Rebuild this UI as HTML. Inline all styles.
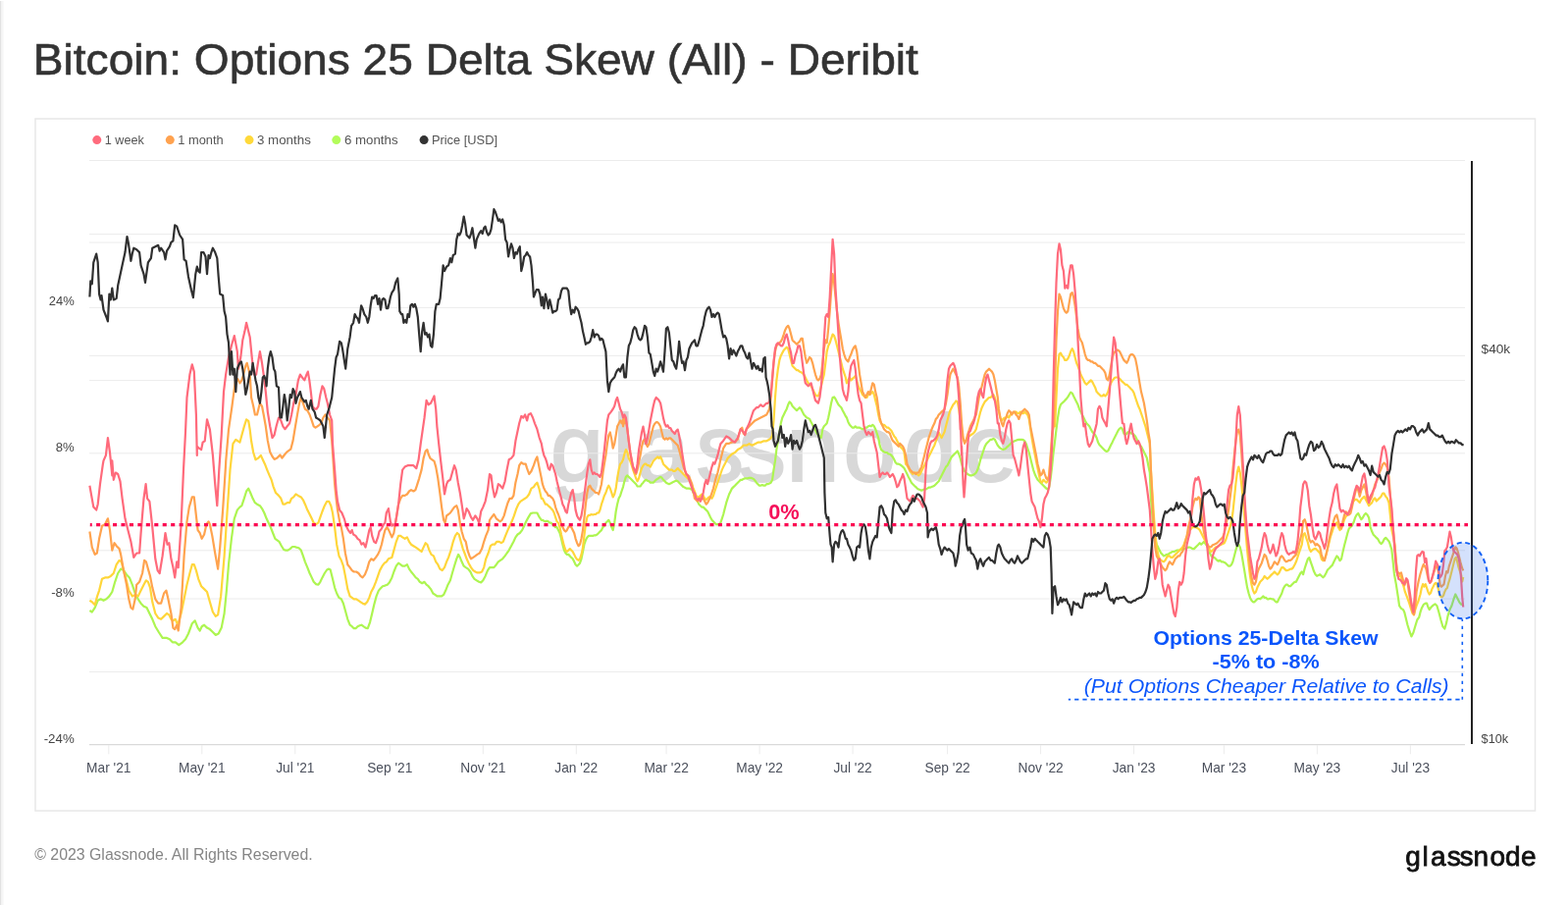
<!DOCTYPE html>
<html><head><meta charset="utf-8"><title>Bitcoin: Options 25 Delta Skew (All) - Deribit</title>
<style>
html,body{margin:0;padding:0;background:#fff;}
body{width:1598px;height:922px;position:relative;overflow:hidden;font-family:'Liberation Sans', sans-serif;}
</style></head><body>
<svg width="1598" height="922" viewBox="0 0 1598 922" style="position:absolute;left:0;top:0">
<rect x="0" y="1" width="1.5" height="921" fill="#e2e2e2"/><rect x="1.5" y="1" width="2" height="921" fill="#f6f6f6"/>
<rect x="36" y="121" width="1528.5" height="705" fill="none" stroke="#e8e8e8" stroke-width="1.5"/>
<text x="33.8" y="76.2" font-family="Liberation Sans, sans-serif" font-size="44.2" fill="#333" textLength="902.1" lengthAdjust="spacingAndGlyphs" stroke="#333" stroke-width="0.6">Bitcoin: Options 25 Delta Skew (All) - Deribit</text>
<text x="35.2" y="875.7" font-family="Liberation Sans, sans-serif" font-size="16.9" fill="#858585" textLength="283.5" lengthAdjust="spacingAndGlyphs">© 2023 Glassnode. All Rights Reserved.</text>
<text x="1432.25 1449.5 1457.9 1474.8 1487.5 1501.55 1518.4 1534.1 1550.1" y="882" font-family="Liberation Sans, sans-serif" font-size="28" fill="#111" stroke="#111" stroke-width="0.8">glassnode</text>
<circle cx="98.8" cy="142.6" r="4.5" fill="#ff6b7d"/>
<text x="106.8" y="146.7" font-family="Liberation Sans, sans-serif" font-size="12.6" fill="#555" textLength="40.1" lengthAdjust="spacingAndGlyphs">1 week</text>
<circle cx="173.3" cy="142.6" r="4.5" fill="#ffa24f"/>
<text x="181.3" y="146.7" font-family="Liberation Sans, sans-serif" font-size="12.6" fill="#555" textLength="46.4" lengthAdjust="spacingAndGlyphs">1 month</text>
<circle cx="254" cy="142.6" r="4.5" fill="#ffd93a"/>
<text x="262.0" y="146.7" font-family="Liberation Sans, sans-serif" font-size="12.6" fill="#555" textLength="54.8" lengthAdjust="spacingAndGlyphs">3 months</text>
<circle cx="342.8" cy="142.6" r="4.5" fill="#b3fc5a"/>
<text x="350.9" y="146.7" font-family="Liberation Sans, sans-serif" font-size="12.6" fill="#555" textLength="54.7" lengthAdjust="spacingAndGlyphs">6 months</text>
<circle cx="432.1" cy="142.6" r="4.5" fill="#333"/>
<text x="439.9" y="146.7" font-family="Liberation Sans, sans-serif" font-size="12.6" fill="#555" textLength="67.1" lengthAdjust="spacingAndGlyphs">Price [USD]</text>
<text x="561 624.5 648.5 709.5 752.5 801.5 859.5 921 982.5" y="490" font-family="Liberation Sans, sans-serif" font-size="97" fill="#d8d8d8" stroke="#d8d8d8" stroke-width="2">glassnode</text>
<line x1="91" x2="1493" y1="163.5" y2="163.5" stroke="#ececec" stroke-width="1"/>
<line x1="91" x2="1493" y1="238.6" y2="238.6" stroke="#ececec" stroke-width="1"/>
<line x1="91" x2="1493" y1="247.0" y2="247.0" stroke="#ececec" stroke-width="1"/>
<line x1="91" x2="1493" y1="313.4" y2="313.4" stroke="#ececec" stroke-width="1"/>
<line x1="91" x2="1493" y1="362.4" y2="362.4" stroke="#ececec" stroke-width="1"/>
<line x1="91" x2="1493" y1="387.6" y2="387.6" stroke="#ececec" stroke-width="1"/>
<line x1="91" x2="1493" y1="461.8" y2="461.8" stroke="#ececec" stroke-width="1"/>
<line x1="91" x2="1493" y1="535.8" y2="535.8" stroke="#ececec" stroke-width="1"/>
<line x1="91" x2="1493" y1="560.8" y2="560.8" stroke="#ececec" stroke-width="1"/>
<line x1="91" x2="1493" y1="610.0" y2="610.0" stroke="#ececec" stroke-width="1"/>
<line x1="91" x2="1493" y1="684.5" y2="684.5" stroke="#ececec" stroke-width="1"/>
<line x1="91" x2="1493" y1="758.6" y2="758.6" stroke="#d9d9d9" stroke-width="1.2"/>
<line x1="110.8" x2="110.8" y1="759" y2="768.3" stroke="#ececec" stroke-width="1"/>
<text x="110.8" y="787.0" font-family="Liberation Sans, sans-serif" font-size="14.1" fill="#4b505c" text-anchor="middle" transform="translate(110.8 0) scale(0.975 1) translate(-110.8 0)">Mar '21</text>
<line x1="205.8" x2="205.8" y1="759" y2="768.3" stroke="#ececec" stroke-width="1"/>
<text x="205.8" y="787.0" font-family="Liberation Sans, sans-serif" font-size="14.1" fill="#4b505c" text-anchor="middle" transform="translate(205.8 0) scale(0.975 1) translate(-205.8 0)">May '21</text>
<line x1="300.8" x2="300.8" y1="759" y2="768.3" stroke="#ececec" stroke-width="1"/>
<text x="300.8" y="787.0" font-family="Liberation Sans, sans-serif" font-size="14.1" fill="#4b505c" text-anchor="middle" transform="translate(300.8 0) scale(0.975 1) translate(-300.8 0)">Jul '21</text>
<line x1="397.3" x2="397.3" y1="759" y2="768.3" stroke="#ececec" stroke-width="1"/>
<text x="397.3" y="787.0" font-family="Liberation Sans, sans-serif" font-size="14.1" fill="#4b505c" text-anchor="middle" transform="translate(397.3 0) scale(0.975 1) translate(-397.3 0)">Sep '21</text>
<line x1="492.3" x2="492.3" y1="759" y2="768.3" stroke="#ececec" stroke-width="1"/>
<text x="492.3" y="787.0" font-family="Liberation Sans, sans-serif" font-size="14.1" fill="#4b505c" text-anchor="middle" transform="translate(492.3 0) scale(0.975 1) translate(-492.3 0)">Nov '21</text>
<line x1="587.3" x2="587.3" y1="759" y2="768.3" stroke="#ececec" stroke-width="1"/>
<text x="587.3" y="787.0" font-family="Liberation Sans, sans-serif" font-size="14.1" fill="#4b505c" text-anchor="middle" transform="translate(587.3 0) scale(0.975 1) translate(-587.3 0)">Jan '22</text>
<line x1="679.1" x2="679.1" y1="759" y2="768.3" stroke="#ececec" stroke-width="1"/>
<text x="679.1" y="787.0" font-family="Liberation Sans, sans-serif" font-size="14.1" fill="#4b505c" text-anchor="middle" transform="translate(679.1 0) scale(0.975 1) translate(-679.1 0)">Mar '22</text>
<line x1="774.1" x2="774.1" y1="759" y2="768.3" stroke="#ececec" stroke-width="1"/>
<text x="774.1" y="787.0" font-family="Liberation Sans, sans-serif" font-size="14.1" fill="#4b505c" text-anchor="middle" transform="translate(774.1 0) scale(0.975 1) translate(-774.1 0)">May '22</text>
<line x1="869.1" x2="869.1" y1="759" y2="768.3" stroke="#ececec" stroke-width="1"/>
<text x="869.1" y="787.0" font-family="Liberation Sans, sans-serif" font-size="14.1" fill="#4b505c" text-anchor="middle" transform="translate(869.1 0) scale(0.975 1) translate(-869.1 0)">Jul '22</text>
<line x1="965.6" x2="965.6" y1="759" y2="768.3" stroke="#ececec" stroke-width="1"/>
<text x="965.6" y="787.0" font-family="Liberation Sans, sans-serif" font-size="14.1" fill="#4b505c" text-anchor="middle" transform="translate(965.6 0) scale(0.975 1) translate(-965.6 0)">Sep '22</text>
<line x1="1060.6" x2="1060.6" y1="759" y2="768.3" stroke="#ececec" stroke-width="1"/>
<text x="1060.6" y="787.0" font-family="Liberation Sans, sans-serif" font-size="14.1" fill="#4b505c" text-anchor="middle" transform="translate(1060.6 0) scale(0.975 1) translate(-1060.6 0)">Nov '22</text>
<line x1="1155.6" x2="1155.6" y1="759" y2="768.3" stroke="#ececec" stroke-width="1"/>
<text x="1155.6" y="787.0" font-family="Liberation Sans, sans-serif" font-size="14.1" fill="#4b505c" text-anchor="middle" transform="translate(1155.6 0) scale(0.975 1) translate(-1155.6 0)">Jan '23</text>
<line x1="1247.4" x2="1247.4" y1="759" y2="768.3" stroke="#ececec" stroke-width="1"/>
<text x="1247.4" y="787.0" font-family="Liberation Sans, sans-serif" font-size="14.1" fill="#4b505c" text-anchor="middle" transform="translate(1247.4 0) scale(0.975 1) translate(-1247.4 0)">Mar '23</text>
<line x1="1342.4" x2="1342.4" y1="759" y2="768.3" stroke="#ececec" stroke-width="1"/>
<text x="1342.4" y="787.0" font-family="Liberation Sans, sans-serif" font-size="14.1" fill="#4b505c" text-anchor="middle" transform="translate(1342.4 0) scale(0.975 1) translate(-1342.4 0)">May '23</text>
<line x1="1437.4" x2="1437.4" y1="759" y2="768.3" stroke="#ececec" stroke-width="1"/>
<text x="1437.4" y="787.0" font-family="Liberation Sans, sans-serif" font-size="14.1" fill="#4b505c" text-anchor="middle" transform="translate(1437.4 0) scale(0.975 1) translate(-1437.4 0)">Jul '23</text>
<text x="49.7" y="311.0" font-family="Liberation Sans, sans-serif" font-size="12.6" fill="#454545" textLength="26.0" lengthAdjust="spacingAndGlyphs">24%</text>
<text x="56.7" y="460.0" font-family="Liberation Sans, sans-serif" font-size="12.6" fill="#454545" textLength="19.0" lengthAdjust="spacingAndGlyphs">8%</text>
<text x="52.2" y="608.3" font-family="Liberation Sans, sans-serif" font-size="12.6" fill="#454545" textLength="23.5" lengthAdjust="spacingAndGlyphs">-8%</text>
<text x="44.7" y="757.0" font-family="Liberation Sans, sans-serif" font-size="12.6" fill="#454545" textLength="31.0" lengthAdjust="spacingAndGlyphs">-24%</text>
<text x="1509.6" y="359.7" font-family="Liberation Sans, sans-serif" font-size="12.4" fill="#454545" textLength="29.599999999999998" lengthAdjust="spacingAndGlyphs">$40k</text>
<text x="1509.6" y="756.5" font-family="Liberation Sans, sans-serif" font-size="12.4" fill="#454545" textLength="27.599999999999998" lengthAdjust="spacingAndGlyphs">$10k</text>
<polyline fill="none" stroke="#adf551" stroke-width="2.2" stroke-linejoin="round" points="91.4,622.0 93.8,623.5 96.7,619.1 99.7,611.8 102.6,610.3 105.5,611.8 108.4,610.3 111.4,607.4 114.3,603.0 117.2,592.8 120.2,584.0 123.1,579.6 126.0,581.1 129.0,585.4 131.9,588.4 134.8,595.7 137.7,604.5 140.7,610.3 143.6,614.7 146.5,617.7 149.5,619.1 152.4,625.0 155.3,630.8 158.3,638.2 161.8,644.0 165.6,649.9 170.0,649.9 172.9,651.3 175.8,654.3 178.8,654.3 182.3,657.2 186.1,654.3 189.0,651.3 192.0,645.5 195.8,635.2 198.7,632.3 201.6,639.6 203.7,642.5 205.7,638.2 208.1,636.7 211.0,639.6 213.9,641.1 216.9,644.0 219.8,646.9 222.7,645.5 225.7,639.6 228.6,625.0 230.9,601.6 233.0,575.2 235.9,548.8 238.8,528.3 241.8,519.6 244.4,516.6 246.4,515.2 248.8,507.8 251.1,500.5 253.2,497.6 255.2,502.0 257.6,507.8 259.9,512.2 262.0,513.7 264.9,515.2 267.0,518.1 269.3,522.5 271.6,528.3 273.7,532.7 275.8,537.1 278.1,543.0 280.4,548.8 282.5,550.3 284.5,551.8 286.9,556.2 289.2,560.0 291.3,560.6 293.3,560.6 295.7,559.1 298.0,557.0 300.1,557.0 302.1,557.6 304.5,558.2 306.8,560.6 308.9,566.4 310.9,572.3 313.3,578.1 315.6,584.0 317.7,588.4 319.7,592.8 322.1,595.1 324.4,595.7 326.4,592.8 328.5,588.4 330.8,584.0 333.2,580.5 335.2,579.6 336.7,580.5 339.0,589.8 341.1,598.6 343.2,604.5 345.5,608.9 347.8,610.3 349.9,614.7 351.9,622.0 354.3,630.8 356.6,636.7 358.7,638.2 360.7,640.2 362.5,640.2 364.5,638.2 366.6,637.3 368.4,636.7 370.4,638.2 372.5,639.6 374.8,640.2 377.1,633.8 379.2,625.0 381.2,616.2 383.6,607.4 385.9,601.6 388.0,599.2 390.0,597.2 392.4,596.6 394.7,595.7 396.8,593.4 399.4,588.4 401.4,582.5 403.8,576.7 406.1,573.7 408.2,575.2 410.2,576.7 412.6,576.7 414.9,575.2 417.0,579.6 419.0,582.5 421.4,585.4 423.7,588.4 425.8,589.8 427.8,592.8 430.2,594.2 432.5,592.8 434.6,595.7 436.6,597.2 439.0,600.1 441.3,604.5 443.4,605.9 445.4,607.4 447.7,607.4 450.1,607.4 452.1,605.9 454.2,601.6 456.5,595.7 458.9,591.3 460.9,584.0 463.0,576.7 465.3,569.3 467.1,564.9 468.8,567.9 470.6,572.3 472.7,576.7 474.7,578.1 477.1,579.6 479.4,582.5 481.4,586.9 483.5,589.8 485.8,591.3 488.2,592.8 490.2,593.4 492.3,591.3 494.6,586.9 497.0,581.1 499.0,578.1 501.1,578.1 503.4,578.1 505.8,575.2 507.8,572.3 509.9,570.8 512.2,569.3 514.6,566.4 516.6,563.5 518.7,560.6 521.0,556.2 523.4,551.8 525.4,547.4 527.5,544.5 529.8,543.0 532.1,540.1 534.2,535.7 536.2,531.3 538.6,526.9 540.9,523.1 543.0,522.5 545.0,522.5 547.4,522.5 549.7,526.9 551.8,529.8 552.9,529.8 554.4,530.7 555.9,531.3 557.3,530.7 558.8,531.3 560.3,532.7 561.7,532.7 563.2,534.2 564.7,535.7 566.1,537.1 567.6,537.1 569.0,540.1 570.5,543.0 572.0,548.8 573.4,554.7 574.9,560.6 576.4,563.5 577.8,564.9 579.3,564.9 580.8,566.4 582.2,567.9 583.7,569.3 585.2,572.3 586.6,575.2 588.1,576.7 589.6,575.2 591.0,573.7 592.5,569.3 594.0,562.0 595.4,554.7 596.9,550.3 598.4,547.4 599.8,545.9 601.3,545.9 602.7,545.9 604.2,545.9 605.7,545.3 607.1,545.3 608.6,544.5 610.1,543.0 611.5,541.5 613.0,540.1 614.5,537.1 615.9,535.7 617.4,532.7 618.9,531.3 620.3,529.8 621.8,532.7 623.3,537.1 624.7,540.1 626.2,532.7 627.7,521.0 629.1,513.7 630.6,507.8 632.1,504.9 633.5,500.5 635.0,496.1 636.4,490.3 637.9,485.9 639.4,484.4 640.8,485.9 642.3,487.3 643.8,488.8 645.2,490.3 646.7,491.7 648.2,493.2 649.6,495.5 651.1,495.5 652.6,495.5 654.0,493.2 655.5,491.7 657.0,489.7 658.4,488.8 659.9,489.7 661.4,490.3 662.8,491.7 664.3,491.7 665.8,491.7 667.2,490.3 668.7,488.8 670.1,487.9 671.6,486.8 673.1,485.9 674.5,486.8 676.0,488.8 677.5,490.3 678.9,491.7 680.4,492.6 681.9,493.2 683.3,492.6 684.8,491.7 686.3,490.9 687.7,490.3 689.2,489.7 690.7,490.3 692.1,491.7 693.6,493.2 695.1,494.7 696.5,496.1 698.0,496.7 699.5,497.6 702.4,497.6 705.3,499.1 707.9,504.9 709.4,507.8 710.9,510.8 712.3,513.7 713.8,515.2 715.3,516.6 716.7,516.6 718.2,518.1 719.7,519.6 721.1,521.0 722.6,524.0 724.0,526.9 725.5,529.8 727.0,531.3 728.4,532.7 729.9,534.2 731.4,534.2 732.8,534.2 734.3,532.7 735.8,528.3 737.2,524.0 738.7,518.1 740.2,512.2 741.6,507.8 743.1,503.5 744.6,500.5 746.0,497.6 747.5,496.1 749.0,494.7 750.4,493.2 751.9,491.7 753.4,490.3 754.8,488.8 756.3,488.8 757.7,487.9 759.2,487.3 760.7,487.3 762.1,487.3 763.6,486.8 765.1,486.8 766.5,487.3 768.0,487.9 769.5,489.7 770.9,491.7 772.4,493.2 773.9,494.7 775.3,494.7 776.8,494.1 778.3,494.7 779.7,494.7 781.2,493.2 782.7,493.2 784.1,492.6 785.6,491.7 787.1,488.8 788.5,478.6 790.0,469.4 791.4,457.7 792.9,448.9 794.4,440.1 795.8,431.3 797.3,425.5 798.8,422.5 800.2,419.6 801.7,416.7 803.2,412.3 804.6,409.4 806.1,410.8 807.6,413.8 809.0,415.2 810.5,416.7 812.0,418.2 813.4,416.7 814.9,415.2 816.4,416.7 817.8,419.6 819.3,422.5 820.8,424.0 822.2,425.5 823.7,426.1 825.1,426.9 826.6,429.9 828.1,432.8 829.5,435.7 831.0,438.7 832.5,441.6 833.9,443.0 835.4,444.5 836.9,446.0 838.3,437.2 839.8,434.3 841.3,432.8 842.7,431.3 844.2,425.5 845.7,418.2 847.1,410.8 848.6,405.0 850.1,404.4 851.5,406.4 853.0,409.4 854.5,412.3 855.9,413.8 857.4,415.2 858.8,418.2 860.3,421.1 861.8,424.0 862.9,425.5 864.4,429.9 865.9,432.8 867.3,434.3 868.8,435.7 870.3,435.7 871.7,434.3 873.2,435.7 874.7,435.7 876.1,435.7 877.6,436.6 879.0,437.2 880.5,437.2 882.0,435.7 883.4,435.7 884.9,434.3 886.4,433.7 887.8,434.3 889.3,432.8 890.8,434.3 892.2,437.2 893.7,441.6 895.2,446.0 896.6,453.7 898.1,458.1 899.6,459.5 901.0,460.4 902.5,461.0 904.0,461.0 905.4,462.5 906.9,462.5 908.4,463.9 909.8,465.4 911.3,468.3 912.7,471.2 914.2,472.7 915.7,472.7 917.1,473.3 918.6,474.2 920.1,475.6 921.5,477.1 923.0,480.0 924.5,483.0 925.9,485.9 927.4,488.8 928.9,491.7 930.3,493.2 931.8,494.7 933.3,496.1 934.7,497.6 936.2,498.5 937.7,499.1 939.1,499.6 940.6,499.1 942.1,498.5 943.5,498.5 945.0,497.6 946.4,496.7 947.9,496.7 949.4,496.1 950.8,495.5 952.3,494.7 953.8,493.2 955.2,491.7 956.7,490.3 958.2,487.3 959.6,484.4 961.1,481.5 962.6,478.6 964.0,475.6 965.5,474.2 967.0,471.2 968.4,468.3 969.9,465.4 971.4,463.9 972.8,462.5 974.3,461.0 975.8,459.5 977.2,462.5 978.7,466.9 980.1,472.7 981.6,477.1 983.1,480.0 984.5,481.5 986.0,483.0 987.5,483.8 988.9,484.4 990.4,484.4 991.9,483.8 993.3,483.0 994.8,481.5 996.3,478.6 997.7,474.2 999.2,468.3 1000.7,463.9 1002.1,459.5 1003.6,455.1 1005.1,452.2 1006.5,450.7 1008.0,449.3 1009.5,447.8 1010.9,447.8 1012.4,446.9 1013.8,447.8 1015.3,450.7 1016.8,453.7 1017.9,455.1 1019.4,456.6 1020.9,457.5 1022.3,458.1 1023.8,457.5 1025.3,456.6 1026.7,455.1 1028.2,453.7 1029.7,452.2 1031.1,450.7 1032.6,449.9 1034.0,449.3 1035.5,448.7 1037.0,448.1 1038.4,447.8 1039.9,447.8 1041.4,447.8 1042.8,448.1 1044.3,449.3 1045.8,452.2 1047.2,456.6 1048.7,461.0 1050.2,466.9 1051.6,472.7 1053.1,478.6 1054.6,483.0 1056.0,485.9 1057.5,488.8 1059.0,490.3 1060.4,491.7 1061.9,493.2 1063.4,494.7 1064.8,496.1 1066.3,497.6 1067.7,498.5 1069.2,496.1 1070.7,487.3 1072.1,475.6 1073.6,461.0 1075.1,449.3 1076.5,437.6 1078.0,425.9 1079.5,416.7 1080.9,412.3 1082.4,410.8 1083.9,409.4 1085.3,407.9 1086.8,406.4 1088.3,404.4 1089.7,402.0 1091.2,399.7 1092.7,400.6 1094.1,403.5 1095.6,406.4 1097.1,409.4 1098.5,412.3 1100.0,416.7 1101.4,419.6 1102.9,422.5 1104.4,425.5 1105.8,428.4 1107.3,431.3 1108.8,432.8 1110.2,434.3 1111.7,437.2 1113.2,440.1 1114.6,441.6 1116.1,443.0 1117.6,446.0 1119.0,450.4 1120.5,453.3 1122.0,454.8 1123.4,456.2 1124.9,457.7 1126.4,459.2 1127.8,460.0 1129.3,459.2 1130.8,456.2 1132.2,453.3 1133.7,450.4 1135.1,447.4 1136.6,444.5 1138.1,441.6 1139.5,438.7 1141.0,436.6 1142.5,435.7 1143.9,437.2 1145.4,441.6 1146.9,443.0 1148.3,441.6 1149.8,440.1 1151.3,440.1 1152.7,441.6 1154.2,441.6 1155.7,443.0 1157.1,444.5 1158.6,447.4 1160.1,450.4 1161.5,453.3 1163.0,454.8 1164.5,457.7 1165.9,460.6 1167.4,463.5 1168.8,466.5 1170.3,474.2 1171.8,481.5 1172.9,507.8 1174.4,525.4 1175.9,540.1 1177.3,548.8 1178.8,554.7 1180.3,557.6 1181.7,560.6 1183.2,563.5 1184.7,564.9 1186.1,566.4 1187.6,565.8 1189.0,564.9 1190.5,564.9 1192.0,563.5 1193.4,562.9 1194.9,562.0 1196.4,562.0 1197.8,561.4 1199.3,560.6 1200.8,560.6 1202.2,560.6 1203.7,560.0 1205.2,560.0 1206.6,559.1 1208.1,559.1 1209.6,558.2 1211.0,557.6 1212.5,557.6 1214.0,558.2 1215.4,559.1 1216.9,559.1 1218.4,557.6 1219.8,556.2 1221.3,554.7 1222.7,553.2 1224.2,554.7 1225.7,553.2 1227.1,551.8 1228.6,554.1 1230.1,556.2 1231.5,559.1 1233.0,563.5 1234.5,566.4 1235.9,567.9 1237.4,567.9 1238.9,569.3 1240.3,570.8 1241.8,571.7 1243.3,570.8 1244.7,572.3 1246.2,572.3 1247.7,572.9 1249.1,573.7 1250.6,575.2 1252.1,576.7 1253.5,576.7 1255.0,575.2 1256.4,572.3 1257.9,566.4 1259.4,560.6 1260.8,556.2 1262.3,554.7 1263.8,557.6 1265.2,563.5 1266.7,572.3 1268.2,581.1 1269.6,589.8 1271.1,598.6 1272.6,604.5 1274.0,608.9 1275.5,611.8 1277.0,613.3 1278.4,613.3 1279.9,611.8 1281.4,610.3 1282.8,609.8 1284.3,610.3 1285.8,608.9 1287.2,607.4 1288.7,608.9 1290.1,608.9 1291.6,610.3 1293.1,610.3 1294.5,609.8 1296.0,610.3 1297.5,610.3 1298.9,611.8 1300.4,613.3 1301.9,613.3 1303.3,610.3 1304.8,607.4 1306.3,604.5 1307.7,600.1 1309.2,597.2 1310.7,595.7 1312.1,595.7 1313.6,597.2 1315.1,597.2 1316.5,595.7 1318.0,594.2 1319.5,592.8 1320.9,592.8 1322.4,589.8 1323.8,586.9 1325.3,584.0 1326.8,582.5 1328.1,585.2 1329.7,579.0 1331.2,574.3 1332.8,569.6 1334.3,568.1 1335.9,572.8 1337.5,577.4 1339.0,582.1 1340.6,585.2 1342.1,586.8 1343.7,586.1 1345.2,585.2 1346.8,586.8 1348.4,588.3 1349.9,586.8 1351.5,583.7 1353.0,580.5 1354.6,579.0 1356.1,577.4 1357.7,575.9 1359.2,572.8 1360.8,569.6 1362.4,566.5 1363.9,568.1 1365.5,571.2 1367.0,569.6 1368.6,561.9 1370.1,555.6 1371.7,549.4 1373.3,543.2 1374.8,538.5 1376.4,537.0 1377.9,535.4 1379.5,532.3 1381.0,527.6 1382.6,524.5 1384.2,523.0 1385.7,526.1 1387.3,529.2 1388.8,527.6 1390.4,524.5 1391.9,523.0 1393.5,524.5 1395.1,527.6 1396.6,537.0 1398.2,541.6 1399.7,544.7 1401.3,546.3 1402.8,547.9 1404.4,549.4 1406.0,552.5 1407.5,554.1 1409.1,552.5 1410.6,549.4 1412.2,547.9 1413.7,549.4 1415.5,551.5 1416.3,553.4 1418.3,559.9 1419.6,571.7 1420.9,584.7 1422.8,595.1 1424.8,608.1 1426.1,617.2 1428.0,619.8 1430.0,621.1 1431.3,623.7 1432.6,628.9 1434.5,636.7 1436.5,643.2 1438.4,648.4 1440.4,644.5 1442.3,638.0 1444.3,631.5 1446.2,628.9 1447.5,623.7 1448.8,619.8 1450.8,615.9 1452.8,614.6 1454.1,614.6 1455.4,618.5 1456.7,621.1 1458.6,618.5 1460.6,616.6 1462.5,615.3 1464.5,617.2 1466.4,623.7 1468.4,631.5 1470.3,638.0 1472.3,640.6 1474.2,634.1 1475.5,627.6 1477.5,621.1 1479.4,617.2 1481.4,610.7 1483.3,605.5 1485.3,609.4 1487.2,613.3 1489.2,615.9 1491.2,614.6"/>
<polyline fill="none" stroke="#ffd63a" stroke-width="2.2" stroke-linejoin="round" points="91.4,611.8 93.8,613.3 96.7,616.2 99.1,607.4 101.1,601.6 104.0,589.8 107.0,588.4 109.9,588.4 112.8,586.9 115.8,584.0 118.7,575.2 121.6,570.8 123.7,572.3 126.0,581.1 128.4,589.8 131.3,601.6 134.8,607.4 137.7,605.9 140.7,607.4 143.6,601.6 146.5,595.7 148.9,591.3 150.9,592.8 153.0,598.6 155.3,613.3 158.3,625.0 161.2,629.4 164.1,630.8 167.1,627.9 170.0,625.0 172.3,626.4 174.4,630.8 176.4,632.3 178.8,630.8 181.1,636.7 184.6,625.0 187.6,610.3 190.5,595.7 193.4,584.0 195.8,575.2 197.8,575.2 199.9,581.1 202.2,589.8 205.1,597.2 208.1,600.1 211.0,603.0 213.9,613.3 216.9,623.5 219.8,627.9 222.1,626.4 225.1,607.4 228.6,566.4 231.5,522.5 234.5,478.6 237.4,452.2 240.3,447.8 244.4,450.7 246.4,443.4 248.8,434.6 251.1,427.3 253.2,428.8 254.7,437.6 256.1,449.3 258.2,461.0 260.5,468.3 262.9,466.9 265.8,463.9 267.8,468.3 269.9,472.7 272.2,478.6 274.6,484.4 276.6,488.8 278.7,496.1 281.0,502.0 284.0,504.9 286.3,507.8 288.4,513.7 290.4,513.7 292.7,512.2 295.1,512.2 297.1,507.8 299.2,506.4 301.5,503.5 303.9,504.9 306.8,506.4 308.9,509.3 310.9,513.7 313.3,519.6 315.6,524.0 317.7,528.3 319.7,532.7 322.1,534.2 324.4,532.7 326.4,526.9 328.5,521.0 330.8,515.2 333.2,510.8 335.2,510.8 337.3,515.2 339.0,522.5 341.1,537.1 343.2,554.7 345.5,566.4 347.8,570.8 349.9,576.7 351.9,586.9 354.3,600.1 356.6,607.4 358.7,608.9 360.7,610.3 363.1,610.3 365.4,611.8 367.5,613.3 369.5,614.7 371.9,615.6 374.2,613.3 376.3,608.9 378.3,603.0 380.7,598.6 383.0,592.8 385.1,586.9 387.1,581.1 389.5,576.7 391.8,573.7 393.8,572.3 395.9,569.3 399.4,567.9 401.4,560.6 403.8,551.8 406.1,545.9 408.2,545.9 410.2,547.4 412.6,548.8 414.9,547.4 417.0,551.8 419.0,554.7 421.4,556.2 423.7,557.6 425.8,559.1 427.8,560.6 429.6,562.0 431.6,557.6 433.7,553.2 435.4,554.7 437.5,560.6 439.5,564.9 441.9,566.4 444.2,572.3 446.3,575.2 448.3,579.6 450.7,581.1 453.0,578.1 455.1,572.3 457.1,567.9 459.5,560.6 461.8,551.8 463.9,545.9 465.9,543.0 467.7,544.5 469.7,551.8 471.8,559.1 473.5,563.5 475.6,569.3 477.6,573.7 480.0,578.1 482.3,581.1 484.4,582.5 486.4,583.4 488.8,583.4 491.1,582.5 493.2,578.1 495.2,569.3 497.6,563.5 499.9,556.2 502.0,554.7 504.0,554.7 506.4,551.8 508.7,551.8 510.8,553.2 512.8,551.8 515.1,545.9 517.5,540.1 519.5,535.7 521.6,531.3 523.9,525.4 526.3,518.1 528.3,513.7 530.4,510.8 532.7,509.3 535.1,507.8 537.1,506.4 539.2,503.5 541.5,497.6 543.9,496.1 545.9,493.2 547.4,491.7 549.4,497.6 551.8,507.8 552.9,507.8 554.4,510.8 555.9,513.7 557.3,513.7 558.8,515.2 560.3,516.6 561.7,518.1 563.2,519.6 564.7,522.5 566.1,526.9 567.6,531.3 569.0,532.7 570.5,537.1 572.0,544.5 573.4,550.3 574.9,556.2 576.4,560.6 577.8,562.0 579.3,560.6 580.8,559.1 582.2,560.6 583.7,562.0 585.2,564.9 586.6,567.9 588.1,569.9 589.6,570.8 591.0,569.3 592.5,564.9 594.0,557.6 595.4,545.9 596.9,534.2 598.4,526.9 599.8,524.8 601.3,524.8 602.7,524.0 604.2,524.5 605.7,524.0 607.1,524.0 608.6,522.5 610.1,522.5 611.5,519.6 613.0,513.7 614.5,509.3 615.9,504.9 617.4,502.0 618.9,497.6 620.3,494.7 621.8,497.6 623.3,502.0 624.7,506.4 626.2,503.5 627.7,497.6 629.1,487.3 630.6,478.6 632.1,472.7 633.5,471.2 635.0,468.3 636.4,462.5 637.9,458.1 639.4,461.0 640.8,466.9 642.3,469.8 643.8,474.2 645.2,478.6 646.7,483.0 648.2,487.3 649.6,490.3 651.1,487.3 652.6,481.5 654.0,477.1 655.5,474.2 657.0,472.7 658.4,472.7 659.9,474.2 661.4,474.2 662.8,475.6 664.3,472.7 665.8,469.8 667.2,468.3 668.7,466.9 670.1,465.4 671.6,466.9 673.1,465.4 674.5,468.3 676.0,472.7 677.5,474.2 678.9,475.6 680.4,477.1 681.9,478.6 683.3,478.6 684.8,478.6 686.3,480.0 687.7,480.0 689.2,478.6 690.7,477.1 692.1,478.6 693.6,480.0 695.1,481.5 696.5,483.0 698.0,484.4 699.5,485.9 702.4,488.8 705.3,494.7 707.9,500.5 709.4,504.9 710.9,506.4 712.3,506.4 713.8,504.9 715.3,503.5 716.7,504.9 718.2,507.8 719.7,509.3 721.1,507.8 722.6,506.4 724.0,506.4 725.5,507.8 727.0,504.9 728.4,500.5 729.9,496.1 731.4,491.7 732.8,487.3 734.3,483.0 735.8,478.6 737.2,475.6 738.7,472.7 740.2,469.8 741.6,466.9 743.1,465.4 746.0,462.5 749.0,461.0 751.9,458.1 754.8,456.6 757.7,453.7 760.7,453.7 763.6,452.2 766.5,453.7 769.5,452.2 772.4,450.7 775.3,450.7 778.3,449.3 781.2,449.3 784.1,447.8 785.6,446.4 787.1,443.4 788.5,428.4 790.0,405.0 791.4,387.4 792.9,375.7 794.4,366.9 795.8,362.5 797.3,359.6 798.8,356.7 800.2,355.2 801.7,353.7 803.2,355.2 804.6,361.1 806.1,366.9 807.6,372.8 809.0,374.2 810.5,375.7 812.0,377.2 813.4,377.2 814.9,378.6 816.4,379.2 817.8,380.1 819.3,381.6 820.8,384.5 822.2,387.4 823.7,390.3 825.1,391.8 826.6,393.3 828.1,396.2 829.5,399.1 831.0,402.0 832.5,403.5 833.9,403.5 835.4,399.1 836.9,393.3 838.3,387.4 839.8,381.6 841.3,369.8 842.7,358.1 844.2,352.3 845.7,349.3 847.1,344.9 848.6,340.6 850.1,342.0 851.5,346.4 853.0,352.3 854.5,358.1 855.9,364.0 857.4,369.8 858.8,375.7 860.3,380.1 861.8,384.5 862.9,390.3 864.4,387.4 865.9,384.5 867.3,387.4 868.8,385.9 870.3,384.5 871.7,383.0 873.2,387.4 874.7,393.3 876.1,396.2 877.6,399.1 879.0,402.0 880.5,403.5 882.0,405.0 883.4,405.0 884.9,402.0 886.4,402.0 887.8,400.6 889.3,399.1 890.8,402.0 892.2,407.9 893.7,413.8 895.2,422.5 896.6,428.4 898.1,431.3 899.6,432.8 901.0,432.8 902.5,434.3 904.0,435.7 905.4,435.7 906.9,437.2 908.4,438.7 909.8,441.6 911.3,444.5 912.7,446.0 914.2,448.9 915.7,451.8 917.1,454.8 918.6,456.2 920.1,457.7 921.5,460.6 923.0,472.7 924.5,474.2 925.9,477.1 927.4,480.0 928.9,481.5 930.3,483.0 931.8,481.5 933.3,481.5 934.7,483.0 936.2,484.4 937.7,483.0 939.1,480.0 940.6,477.1 942.1,474.2 943.5,471.2 945.0,468.3 946.4,465.4 947.9,462.5 949.4,459.5 950.8,456.6 952.3,453.7 953.8,449.3 955.2,446.4 956.7,440.5 959.6,446.0 962.6,440.1 964.0,434.3 965.5,428.4 967.0,422.5 968.4,418.2 969.9,415.2 971.4,412.3 972.8,410.8 974.3,408.5 975.8,409.4 977.2,416.7 978.7,428.4 980.1,440.1 981.6,447.4 983.1,450.4 984.5,448.9 986.0,446.0 987.5,444.5 988.9,443.6 990.4,442.5 991.9,441.6 993.3,440.1 994.8,437.2 996.3,431.3 997.7,425.5 999.2,419.6 1000.7,415.2 1002.1,412.3 1003.6,409.4 1005.1,407.9 1006.5,406.4 1008.0,405.0 1009.5,405.0 1010.9,403.5 1012.4,402.0 1013.8,405.0 1015.3,410.8 1016.8,416.7 1017.9,419.6 1019.4,425.5 1020.9,428.4 1022.3,426.9 1023.8,425.5 1025.3,425.5 1026.7,424.0 1028.2,425.5 1029.7,422.5 1031.1,421.1 1032.6,421.1 1034.0,419.6 1035.5,419.6 1037.0,421.1 1038.4,421.1 1039.9,419.6 1041.4,421.1 1042.8,421.1 1044.3,419.6 1045.8,421.1 1047.2,422.5 1048.7,426.9 1051.6,446.4 1053.1,455.1 1056.0,469.8 1059.0,484.4 1060.4,490.3 1061.9,491.7 1063.4,488.8 1064.8,490.3 1066.3,491.7 1067.7,490.3 1069.2,484.4 1070.7,466.9 1072.1,449.3 1073.6,431.7 1075.1,434.3 1076.5,405.0 1078.0,375.7 1079.5,361.1 1080.9,359.6 1082.4,362.5 1083.9,364.0 1085.3,366.9 1086.8,366.9 1088.3,365.4 1089.7,362.5 1091.2,358.1 1092.7,355.2 1094.1,358.1 1095.6,364.0 1097.1,369.8 1098.5,372.8 1100.0,377.2 1101.4,381.6 1102.9,384.5 1104.4,387.4 1105.8,390.3 1107.3,391.8 1108.8,390.3 1110.2,388.9 1111.7,387.4 1113.2,388.9 1114.6,391.8 1116.1,394.7 1117.6,399.1 1119.0,400.6 1120.5,402.0 1122.0,403.5 1123.4,403.5 1124.9,402.0 1126.4,403.5 1127.8,402.0 1129.3,399.1 1130.8,393.3 1132.2,390.3 1133.7,387.4 1135.1,385.9 1136.6,384.5 1138.1,384.5 1139.5,384.5 1141.0,385.9 1142.5,387.4 1143.9,388.9 1145.4,390.3 1146.9,391.8 1148.3,391.8 1149.8,393.3 1151.3,394.7 1152.7,396.2 1154.2,397.7 1155.7,400.6 1157.1,405.0 1158.6,409.4 1160.1,413.8 1161.5,416.7 1163.0,421.1 1164.5,425.5 1165.9,429.9 1167.4,434.3 1168.8,440.1 1170.3,446.0 1171.8,451.8 1172.9,478.6 1174.4,502.0 1175.9,525.4 1177.3,543.0 1178.8,557.6 1180.3,564.9 1181.7,569.3 1183.2,570.8 1184.7,571.7 1186.1,572.3 1187.6,570.8 1189.0,567.9 1190.5,566.4 1192.0,566.4 1193.4,567.9 1194.9,567.9 1196.4,566.4 1197.8,564.9 1199.3,563.5 1200.8,562.0 1202.2,560.6 1203.7,559.1 1205.2,557.6 1206.6,554.7 1208.1,550.3 1209.6,545.9 1211.0,543.0 1212.5,540.1 1214.0,538.6 1215.4,537.1 1216.9,537.1 1218.4,537.1 1219.8,537.7 1221.3,538.6 1222.7,540.1 1224.2,543.0 1225.7,545.9 1227.1,548.8 1228.6,551.8 1230.1,554.7 1231.5,557.6 1233.0,560.6 1234.5,562.0 1235.9,560.6 1237.4,559.1 1238.9,557.6 1240.3,557.0 1241.8,556.2 1243.3,555.3 1244.7,554.7 1246.2,554.1 1247.7,553.2 1249.1,550.3 1250.6,545.9 1252.1,541.5 1253.5,537.1 1255.0,531.3 1256.4,522.5 1257.9,507.8 1259.4,493.2 1260.8,481.5 1262.3,475.6 1263.8,481.5 1265.2,493.2 1266.7,507.8 1268.2,525.4 1269.6,543.0 1271.1,560.6 1272.6,575.2 1274.0,586.9 1275.5,595.7 1277.0,601.6 1278.4,604.5 1279.9,603.0 1281.4,598.6 1282.8,595.7 1284.3,592.8 1285.8,591.3 1287.2,589.8 1288.7,586.9 1290.1,588.4 1291.6,589.8 1293.1,588.4 1294.5,586.9 1296.0,585.4 1297.5,584.0 1298.9,582.5 1300.4,584.0 1301.9,585.4 1303.3,584.0 1304.8,581.1 1306.3,578.1 1307.7,578.1 1309.2,579.6 1310.7,581.1 1312.1,581.1 1313.6,580.5 1315.1,579.6 1316.5,579.6 1318.0,578.1 1319.5,575.2 1320.9,572.3 1322.4,567.9 1323.8,563.5 1325.3,559.1 1326.8,554.7 1328.1,544.7 1329.7,543.2 1331.2,547.9 1332.8,552.5 1334.3,558.8 1335.9,561.9 1337.5,560.3 1339.0,559.4 1340.6,558.8 1342.1,560.3 1343.7,561.9 1345.2,563.4 1346.8,569.6 1348.4,571.2 1349.9,569.6 1351.5,565.0 1353.0,558.8 1354.6,552.5 1356.1,546.3 1357.7,541.6 1359.2,537.0 1360.8,533.9 1362.4,532.3 1363.9,537.0 1365.5,540.1 1367.0,538.5 1368.6,533.9 1370.1,529.2 1371.7,526.1 1373.3,524.5 1374.8,523.0 1376.4,518.3 1377.9,513.6 1379.5,510.5 1381.0,508.9 1382.6,508.9 1384.2,510.5 1385.7,512.1 1387.3,508.9 1388.8,507.4 1390.4,505.8 1391.9,508.9 1393.5,512.1 1395.1,515.2 1396.6,513.6 1398.2,512.1 1399.7,508.9 1401.3,507.4 1402.8,510.5 1404.4,508.9 1406.0,507.4 1407.5,505.8 1409.1,502.7 1410.6,502.7 1412.2,505.8 1413.7,507.4 1415.5,512.0 1416.8,524.5 1418.4,540.0 1420.2,548.0 1421.5,556.0 1422.8,573.0 1424.1,586.0 1425.4,587.3 1426.7,586.0 1428.0,588.6 1429.3,593.8 1430.6,597.7 1431.9,602.9 1433.9,608.1 1435.8,613.3 1437.8,619.8 1439.7,625.0 1441.0,626.3 1442.3,621.1 1443.6,617.2 1445.6,612.0 1447.5,605.5 1448.8,599.0 1450.1,595.1 1451.4,597.7 1452.8,595.1 1454.1,599.0 1455.4,602.9 1456.7,605.5 1458.0,604.2 1459.3,600.3 1460.6,597.7 1461.9,595.1 1463.2,593.8 1464.5,595.1 1465.8,600.3 1467.1,605.5 1468.4,608.1 1469.7,608.1 1471.0,606.8 1472.3,602.9 1473.6,600.3 1474.9,599.0 1476.2,593.8 1477.5,589.9 1478.8,584.7 1480.1,579.5 1481.4,574.3 1482.7,569.0 1484.0,567.7 1485.3,573.0 1486.6,578.2 1487.9,582.1 1489.2,586.0 1490.2,592.5 1491.2,587.9"/>
<polyline fill="none" stroke="#ffa34e" stroke-width="2.2" stroke-linejoin="round" points="91.4,541.5 93.8,557.6 96.7,564.9 98.8,563.5 101.1,548.8 104.0,535.7 107.0,534.2 109.9,528.3 112.0,540.1 114.3,560.6 116.6,553.2 118.7,556.2 121.6,559.1 123.1,564.9 126.0,581.1 129.0,595.7 131.3,610.3 133.4,619.1 135.4,620.6 137.7,610.3 139.2,595.7 142.1,592.8 145.1,584.0 147.1,570.8 148.9,572.3 150.9,579.6 153.0,586.9 155.3,598.6 158.3,610.3 161.2,614.7 164.1,614.7 167.1,604.5 169.4,601.6 171.4,610.3 174.4,625.0 176.4,639.6 178.2,641.1 180.2,636.7 181.7,642.5 184.6,619.1 187.6,566.4 190.5,531.3 192.8,516.6 195.8,506.4 197.8,506.4 199.9,525.4 201.6,540.1 203.7,543.0 205.7,548.8 208.1,544.5 210.4,534.2 212.5,531.3 213.9,534.2 216.3,545.9 219.2,563.5 222.1,579.6 224.2,557.6 227.1,519.6 230.1,472.7 230.2,470.0 233.0,437.6 233.2,436.3 236.3,415.0 238.5,398.3 240.0,387.7 242.3,386.2 244.4,390.3 246.4,387.4 248.2,381.6 250.3,372.8 251.7,369.8 253.2,375.7 254.7,381.6 256.1,405.0 258.2,413.8 259.9,422.5 262.0,422.5 263.4,416.7 264.9,410.8 267.0,413.8 268.7,422.5 270.8,434.3 272.8,448.9 275.2,460.6 277.5,465.0 279.6,467.9 282.5,466.5 285.4,463.5 287.5,466.5 289.8,463.5 292.2,460.6 294.2,459.2 296.3,457.7 298.6,448.9 301.0,434.3 303.0,422.5 305.1,410.8 306.8,405.0 308.9,410.8 310.9,416.7 313.3,418.2 315.6,422.5 317.7,428.4 319.7,434.3 321.5,435.7 323.5,434.3 325.6,432.8 327.3,431.3 329.4,425.5 331.4,422.5 333.8,425.5 336.1,428.4 338.2,449.3 339.6,469.8 341.1,493.2 342.6,507.8 344.0,519.6 346.1,531.3 347.8,537.1 349.9,548.8 351.9,563.5 354.3,575.2 356.6,578.1 358.7,581.1 360.7,582.5 363.1,582.5 365.4,584.0 367.5,586.9 369.5,588.4 371.9,585.4 374.2,579.6 376.3,572.3 378.3,569.3 380.7,570.8 383.0,567.9 385.1,564.9 387.1,560.6 388.9,554.7 390.9,545.9 392.4,540.1 394.4,537.1 396.2,540.1 399.4,547.4 401.4,543.0 403.8,528.3 406.1,513.7 408.2,507.8 410.2,504.9 412.6,504.9 414.9,503.5 417.0,500.5 419.0,499.1 421.4,500.5 423.4,499.1 424.9,494.7 427.2,487.3 429.6,478.6 431.6,466.9 433.7,459.5 435.4,458.1 436.6,462.5 438.4,466.9 440.4,468.3 442.5,469.8 444.2,475.6 446.3,487.3 448.3,502.0 450.1,516.6 452.1,529.8 453.6,532.7 455.1,525.4 457.1,524.0 458.9,522.5 460.9,519.6 463.0,516.6 465.3,515.2 466.8,519.6 468.8,532.7 470.6,541.5 472.7,548.8 474.7,551.8 476.5,560.6 478.5,566.4 480.0,569.3 482.3,567.9 484.4,566.4 486.4,564.9 488.8,563.5 491.1,559.1 493.2,551.8 495.2,545.9 497.6,540.1 499.0,529.8 501.1,526.9 503.4,524.0 505.8,528.3 507.8,529.8 509.9,531.3 511.6,529.8 513.7,525.4 515.7,518.1 517.5,512.2 519.5,507.8 521.6,507.8 523.4,504.9 525.4,491.7 527.5,483.0 529.2,474.2 531.3,471.2 533.3,472.7 535.7,472.7 537.1,477.1 539.2,483.0 541.5,480.0 543.9,474.2 545.9,468.3 547.4,465.4 549.4,475.6 551.8,487.3 552.9,493.2 554.4,497.6 555.9,500.5 557.3,502.0 558.8,504.9 560.3,504.9 561.7,506.4 563.2,507.8 564.7,510.8 566.1,516.6 567.6,521.0 569.0,524.0 570.5,528.3 572.0,534.2 573.4,537.1 574.9,540.1 576.4,541.5 577.8,540.1 579.3,537.1 580.8,535.7 582.2,537.1 583.7,540.1 585.2,543.0 586.6,548.8 588.1,553.2 589.6,556.2 591.0,554.7 592.5,548.8 594.0,540.1 595.4,528.3 596.9,513.7 598.4,502.0 599.8,496.1 601.3,494.7 602.7,497.6 604.2,499.1 605.7,500.5 607.1,502.0 608.6,502.0 610.1,503.5 611.5,499.1 613.0,493.2 614.5,481.5 615.9,472.7 617.4,463.9 618.9,452.2 620.3,443.4 621.8,440.5 623.3,447.8 624.7,456.6 626.2,452.2 627.7,443.4 629.1,434.6 629.1,434.3 630.6,431.7 630.6,431.3 632.1,428.8 632.1,428.4 633.5,430.2 633.5,431.3 635.0,427.3 635.0,434.3 636.4,425.9 636.4,431.3 637.9,428.8 637.9,428.4 639.4,437.6 640.8,449.3 642.3,461.0 643.8,469.8 645.2,477.1 646.7,481.5 648.2,483.0 649.6,478.6 651.1,471.2 652.6,463.9 654.0,455.1 655.5,449.3 657.0,447.8 658.4,452.2 659.9,455.1 661.4,452.2 662.8,446.4 664.3,440.5 665.8,434.6 667.2,431.7 668.7,430.2 670.1,430.2 671.6,431.7 673.1,434.6 674.5,440.5 676.0,446.4 677.5,447.8 678.9,446.4 680.4,447.8 681.9,446.4 683.3,446.4 684.8,447.8 686.3,449.3 687.7,450.7 689.2,452.2 690.7,453.7 692.1,458.1 693.6,463.9 695.1,469.8 696.5,475.6 698.0,480.0 699.5,483.0 700.9,484.4 702.4,485.9 705.3,493.2 707.9,507.8 709.4,509.3 710.9,510.8 712.3,509.3 713.8,507.8 715.3,504.9 716.7,507.8 718.2,510.8 719.7,513.7 721.1,512.2 722.6,509.3 724.0,506.4 725.5,502.0 727.0,497.6 728.4,491.7 729.9,485.9 731.4,481.5 732.8,475.6 734.3,468.3 735.8,462.5 737.2,456.6 740.2,451.8 743.1,451.8 746.0,450.4 749.0,450.4 751.9,447.4 753.4,441.6 754.8,437.2 756.3,435.7 757.7,441.6 759.2,443.0 760.7,437.2 763.6,434.3 766.5,431.3 769.5,428.4 772.4,426.9 775.3,425.5 778.3,424.0 781.2,422.5 782.7,419.6 784.1,416.7 785.6,405.0 787.1,387.4 788.5,369.8 790.0,358.1 791.4,352.3 792.9,350.8 794.4,349.3 795.8,347.9 797.3,344.9 798.8,340.6 800.2,336.2 801.7,333.2 803.2,331.8 804.6,334.7 806.1,340.6 807.6,346.4 809.0,347.9 810.5,349.3 812.0,350.8 813.4,349.3 814.9,347.9 816.4,344.9 817.8,344.9 819.3,355.2 820.8,364.0 822.2,369.8 823.7,366.9 825.1,364.0 826.6,365.4 828.1,369.8 829.5,375.7 831.0,381.6 832.5,385.9 833.9,387.4 835.4,385.9 836.9,381.6 838.3,369.8 839.8,355.2 841.3,346.4 842.7,349.3 844.2,334.7 845.7,317.1 847.1,296.6 848.6,279.1 850.1,287.8 851.5,302.5 853.0,317.1 854.5,328.8 855.9,337.6 857.4,346.4 858.8,355.2 860.3,361.1 861.8,365.4 862.9,366.9 864.4,368.4 865.9,364.0 867.3,361.1 868.8,356.7 870.3,353.7 871.7,352.3 873.2,358.1 874.7,369.8 876.1,381.6 877.6,390.3 879.0,399.1 880.5,402.0 882.0,405.0 883.4,402.0 884.9,399.1 886.4,402.0 887.8,396.2 889.3,390.3 890.8,391.8 892.2,399.1 893.7,405.0 895.2,416.7 896.6,425.5 898.1,431.3 899.6,434.3 901.0,437.2 902.5,438.7 904.0,440.1 905.4,440.1 906.9,441.6 908.4,446.0 909.8,448.9 911.3,450.4 912.7,451.8 914.2,453.3 915.7,454.8 917.1,451.8 918.6,453.3 920.1,454.8 921.5,457.7 923.0,463.5 924.5,472.7 925.9,475.6 927.4,478.6 928.9,480.0 930.3,481.5 931.8,481.5 933.3,483.0 934.7,481.5 936.2,481.5 937.7,478.6 939.1,475.6 940.6,469.8 942.1,463.9 943.5,458.1 945.0,452.2 946.4,446.4 947.9,442.0 949.4,437.6 950.8,434.3 952.3,431.3 953.8,426.9 955.2,425.5 956.7,422.5 958.2,421.1 959.6,419.6 961.1,418.2 962.6,416.7 964.0,410.8 965.5,402.0 967.0,390.3 968.4,381.6 969.9,378.6 971.4,375.7 972.8,378.6 974.3,381.6 975.8,384.5 977.2,393.3 978.7,410.8 980.1,431.3 981.6,446.0 983.1,451.8 984.5,448.9 986.0,443.0 987.5,438.7 988.9,434.3 990.4,431.3 991.9,428.4 993.3,425.5 994.8,422.5 996.3,413.8 997.7,405.0 999.2,399.1 1000.7,393.3 1002.1,387.4 1003.6,381.6 1005.1,378.6 1006.5,377.2 1008.0,375.7 1009.5,377.2 1010.9,378.6 1012.4,381.6 1013.8,387.4 1015.3,396.2 1016.8,405.0 1017.9,416.7 1019.4,425.5 1020.9,431.3 1022.3,434.3 1023.8,428.4 1025.3,425.5 1026.7,421.1 1028.2,418.2 1029.7,419.6 1031.1,422.5 1032.6,419.6 1034.0,419.6 1035.5,422.5 1037.0,424.0 1038.4,426.9 1039.9,422.5 1041.4,419.6 1042.8,418.2 1044.3,416.7 1045.8,418.2 1047.2,419.6 1048.7,422.5 1050.2,434.6 1053.1,449.3 1056.0,463.9 1057.5,472.7 1059.0,478.6 1060.4,484.4 1061.9,483.0 1063.4,478.6 1064.8,483.0 1066.3,487.3 1067.7,488.8 1069.2,484.4 1070.7,463.9 1072.1,443.4 1073.6,434.3 1075.1,390.3 1076.5,346.4 1078.0,317.1 1079.5,299.6 1080.9,302.5 1082.4,308.3 1083.9,314.2 1085.3,317.1 1086.8,318.6 1088.3,317.1 1089.7,308.3 1091.2,299.6 1092.7,298.1 1094.1,302.5 1095.6,311.3 1097.1,323.0 1098.5,334.7 1100.0,343.5 1101.4,346.4 1102.9,349.3 1104.4,355.2 1105.8,361.1 1107.3,365.4 1108.8,366.9 1110.2,366.9 1111.7,368.4 1113.2,368.4 1114.6,369.8 1116.1,369.8 1117.6,371.3 1119.0,372.8 1120.5,372.8 1122.0,374.2 1123.4,375.7 1124.9,377.2 1126.4,380.1 1127.8,385.9 1129.3,387.4 1130.8,381.6 1132.2,372.8 1133.7,364.0 1135.1,359.6 1136.6,358.1 1138.1,356.7 1139.5,356.7 1141.0,358.1 1142.5,361.1 1143.9,364.0 1145.4,366.9 1146.9,368.4 1148.3,369.8 1149.8,366.9 1151.3,362.5 1152.7,361.1 1154.2,361.1 1155.7,362.5 1157.1,365.4 1158.6,372.8 1160.1,381.6 1161.5,390.3 1163.0,399.1 1164.5,405.0 1165.9,410.8 1167.4,419.6 1168.8,428.4 1170.3,440.1 1171.8,448.9 1172.9,478.6 1174.4,507.8 1175.9,537.1 1177.3,557.6 1178.8,566.4 1180.3,569.3 1181.7,572.3 1183.2,575.2 1184.7,578.1 1186.1,579.6 1187.6,581.1 1189.0,579.6 1190.5,575.2 1192.0,572.3 1193.4,573.7 1194.9,575.2 1196.4,572.3 1197.8,569.3 1199.3,567.9 1200.8,566.4 1202.2,566.4 1203.7,563.5 1205.2,562.0 1206.6,557.6 1208.1,551.8 1209.6,545.9 1211.0,537.1 1212.5,531.3 1214.0,525.4 1215.4,516.6 1216.9,510.8 1218.4,507.8 1219.8,509.3 1221.3,506.4 1222.7,507.8 1224.2,522.5 1225.7,534.2 1227.1,543.0 1228.6,548.8 1230.1,553.2 1231.5,556.2 1233.0,557.6 1234.5,557.0 1235.9,555.3 1237.4,554.7 1238.9,554.1 1240.3,553.2 1241.8,551.8 1243.3,550.3 1244.7,548.8 1246.2,547.4 1247.7,543.0 1249.1,537.1 1250.6,528.3 1252.1,519.6 1253.5,507.8 1255.0,496.1 1256.4,478.6 1257.9,463.9 1259.4,449.3 1260.8,440.5 1262.3,437.6 1263.8,443.4 1265.2,461.0 1266.7,484.4 1268.2,507.8 1269.6,531.3 1271.1,548.8 1272.6,563.5 1274.0,578.1 1275.5,588.4 1277.0,594.2 1278.4,595.7 1279.9,592.8 1281.4,584.0 1282.8,579.6 1284.3,576.7 1285.8,573.7 1287.2,569.3 1288.7,564.9 1290.1,566.4 1291.6,570.8 1293.1,576.7 1294.5,579.6 1296.0,578.1 1297.5,575.2 1298.9,572.3 1300.4,573.7 1301.9,575.2 1303.3,572.3 1304.8,567.9 1306.3,566.4 1307.7,567.9 1309.2,570.8 1310.7,572.3 1312.1,571.7 1313.6,570.8 1315.1,570.8 1316.5,569.9 1318.0,567.9 1319.5,566.4 1320.9,564.9 1322.4,560.6 1323.8,554.7 1325.3,548.8 1326.8,543.0 1328.1,530.7 1329.7,529.2 1331.2,533.9 1332.8,541.6 1334.3,549.4 1335.9,552.5 1337.5,551.0 1339.0,552.5 1340.6,555.6 1342.1,554.1 1343.7,555.6 1345.2,557.2 1346.8,565.0 1348.4,569.6 1349.9,571.2 1351.5,565.0 1353.0,558.8 1354.6,549.4 1356.1,543.2 1357.7,537.0 1359.2,530.7 1360.8,526.1 1362.4,524.5 1363.9,530.7 1365.5,537.0 1367.0,538.5 1368.6,530.7 1370.1,524.5 1371.7,521.4 1373.3,523.0 1374.8,524.5 1376.4,523.0 1377.9,516.7 1379.5,508.9 1381.0,502.7 1382.6,496.5 1384.2,499.6 1385.7,505.8 1387.3,499.6 1388.8,496.5 1390.4,493.4 1391.9,499.6 1393.5,508.9 1395.1,512.1 1396.6,508.9 1398.2,505.8 1399.7,499.6 1401.3,493.4 1402.8,490.3 1404.4,487.2 1406.0,480.9 1407.5,477.8 1409.1,473.2 1410.6,471.6 1412.2,473.2 1413.7,476.3 1415.5,486.0 1416.8,503.0 1418.9,530.0 1420.2,543.0 1421.5,556.0 1422.8,571.7 1424.1,582.1 1426.1,584.7 1428.0,583.4 1430.0,591.2 1431.3,596.4 1433.2,591.2 1434.5,592.5 1435.8,602.9 1437.8,614.6 1439.7,623.7 1441.0,626.3 1442.3,618.5 1443.6,602.9 1445.6,592.5 1447.5,584.7 1449.5,578.2 1450.8,574.9 1452.1,576.9 1453.4,579.5 1454.7,586.0 1456.0,591.2 1457.3,593.8 1458.6,592.5 1459.9,587.3 1461.2,583.4 1462.5,579.5 1463.8,576.9 1465.1,578.2 1466.4,586.0 1467.7,596.4 1469.0,597.7 1470.3,596.4 1471.6,595.1 1472.9,587.3 1474.2,582.1 1475.5,583.4 1476.8,576.9 1478.1,573.0 1479.4,569.0 1480.7,565.1 1482.0,561.2 1483.3,557.3 1484.6,558.6 1485.9,562.5 1487.2,567.7 1488.5,573.0 1489.9,578.2 1491.2,581.4"/>
<polyline fill="none" stroke="#ff6a7b" stroke-width="2.2" stroke-linejoin="round" points="91.4,494.7 93.2,504.9 95.3,516.6 98.2,519.6 99.7,513.7 102.0,493.2 104.9,472.7 105.5,469.4 107.9,463.9 109.9,446.4 109.9,446.0 112.0,461.0 114.3,484.4 114.3,469.4 115.8,488.8 117.8,481.5 120.2,483.0 122.5,490.3 124.6,507.8 127.5,528.3 130.4,540.1 133.4,551.8 136.3,567.9 139.2,563.5 142.1,563.5 143.6,543.0 146.5,507.8 148.6,493.2 150.1,507.8 152.4,510.8 155.3,537.1 158.3,569.3 160.6,581.1 162.7,584.0 165.6,566.4 168.5,543.0 170.6,554.7 172.3,553.2 174.4,569.3 176.4,578.1 178.2,588.4 180.2,572.3 181.7,578.1 184.6,534.2 187.0,478.6 189.0,440.5 190.5,405.0 193.4,381.6 195.8,371.3 197.8,378.6 199.9,422.5 200.8,463.9 200.8,454.8 202.8,456.6 205.1,458.1 206.6,450.7 208.7,449.3 211.0,427.3 213.9,437.6 216.9,463.9 219.2,493.2 221.3,515.2 223.3,478.6 225.7,443.4 228.0,399.1 230.1,381.6 233.0,364.0 235.9,352.3 238.8,342.0 241.8,358.1 242.9,375.7 245.3,364.0 247.3,346.4 249.4,337.6 251.1,328.8 253.2,337.6 254.7,343.5 257.0,366.9 259.0,381.6 261.1,381.6 262.9,369.8 264.9,358.1 267.0,369.8 268.7,381.6 270.8,399.1 272.8,419.6 275.2,434.3 277.5,446.0 279.6,443.0 281.6,434.3 284.0,425.5 286.3,428.4 288.4,434.3 290.4,437.2 292.7,434.3 295.1,431.3 297.1,422.5 299.2,410.8 301.5,402.0 303.9,387.4 305.9,381.6 308.0,384.5 310.3,387.4 312.4,381.6 313.8,378.6 315.3,387.4 316.8,399.1 318.5,413.8 320.6,416.7 322.6,416.7 324.4,413.8 326.4,402.0 328.5,393.3 330.3,396.2 332.3,405.0 333.8,410.8 336.1,422.5 338.2,428.4 339.0,452.2 341.1,478.6 342.6,499.1 344.0,510.8 346.1,519.6 348.4,522.5 350.8,528.3 352.8,535.7 354.9,540.1 357.2,543.0 358.7,540.1 360.1,544.5 362.5,545.9 364.5,548.8 366.6,550.3 368.4,554.7 370.4,553.2 372.5,557.6 374.2,550.3 376.3,540.1 377.7,537.1 379.2,545.9 381.2,551.8 383.0,553.2 385.1,547.4 386.5,541.5 388.9,538.6 390.9,534.2 392.4,532.7 393.8,522.5 395.9,518.1 397.9,531.3 399.4,535.7 400.9,534.2 402.3,535.7 403.8,528.3 406.1,513.7 408.2,493.2 410.2,478.6 412.6,475.6 415.5,474.2 418.4,474.2 421.4,474.2 424.3,477.1 426.6,468.3 428.7,452.2 430.8,437.6 432.5,425.9 434.6,407.9 436.6,412.3 439.0,410.8 440.4,407.9 442.5,403.5 444.2,416.7 445.4,434.6 447.2,452.2 449.2,469.8 451.3,487.3 453.0,503.5 455.1,493.2 456.5,490.3 458.9,488.8 460.9,481.5 463.0,474.2 464.7,478.6 466.8,491.7 468.8,502.0 470.6,513.7 472.7,528.3 474.1,524.0 475.6,518.1 477.6,521.0 480.0,526.9 482.0,529.8 484.4,525.4 486.4,528.3 488.2,532.7 490.2,521.0 492.3,516.6 494.6,510.8 497.0,499.1 499.0,483.0 500.5,484.4 502.0,496.1 504.0,506.4 505.8,502.0 507.8,493.2 509.9,494.7 512.2,497.6 514.6,490.3 516.6,478.6 518.7,468.3 521.0,466.9 523.4,463.9 525.4,449.3 529.2,431.3 531.3,424.0 533.3,425.5 535.1,422.5 537.1,428.4 538.6,422.5 540.9,421.1 543.0,425.5 545.0,431.3 547.4,437.2 549.7,446.0 551.8,451.8 552.9,458.1 554.4,463.9 555.9,466.9 557.3,471.2 558.8,477.1 560.3,478.6 561.7,472.7 563.2,474.2 564.7,478.6 566.1,483.0 567.6,490.3 569.0,496.1 570.5,502.0 572.0,507.8 573.4,513.7 574.9,516.6 576.4,521.0 577.8,522.5 579.3,513.7 580.8,507.8 582.2,502.0 583.7,499.1 585.2,507.8 586.6,519.6 588.1,525.4 589.6,528.3 591.0,529.8 592.5,525.4 594.0,516.6 595.4,504.9 596.9,493.2 598.4,481.5 599.8,472.7 601.3,468.3 602.7,478.6 604.2,483.0 605.7,481.5 607.1,483.0 608.6,483.0 610.1,484.4 611.5,485.9 613.0,481.5 614.5,469.8 615.9,458.1 617.4,443.4 618.9,428.8 620.3,422.5 622.7,419.6 624.7,416.7 626.2,413.8 627.7,407.9 629.1,405.0 630.6,410.8 632.1,416.7 633.5,419.6 635.0,425.5 636.4,422.5 637.9,425.5 639.4,437.6 640.8,449.3 642.3,461.0 645.2,475.6 648.2,481.5 649.6,472.7 651.1,458.1 652.6,449.3 654.0,440.5 655.5,434.6 657.0,443.4 658.4,452.2 659.9,446.4 661.4,437.6 662.8,428.8 665.8,413.8 667.2,407.9 668.7,405.0 670.1,406.4 671.6,407.9 673.1,410.8 676.0,425.9 677.5,431.7 678.9,434.6 680.4,433.2 681.9,436.1 683.3,436.1 684.8,439.0 686.3,440.5 687.7,442.0 689.2,439.0 690.7,437.6 692.1,443.4 693.6,452.2 695.1,461.0 696.5,469.8 698.0,478.6 699.5,483.0 700.9,484.4 702.4,488.8 703.8,493.2 705.3,497.6 706.8,502.0 707.9,502.0 709.4,507.8 710.9,509.3 712.3,507.8 713.8,510.8 715.3,507.8 716.7,502.0 718.2,493.2 719.7,488.8 721.1,493.2 722.6,487.3 724.0,481.5 725.5,475.6 727.0,471.2 728.4,472.7 729.9,468.3 731.4,463.9 732.8,458.1 734.3,452.2 737.2,448.9 740.2,444.5 743.1,446.0 746.0,448.9 749.0,450.4 751.9,446.0 754.8,437.2 757.7,440.1 759.2,443.0 760.7,437.2 763.6,431.3 766.5,422.5 768.0,418.2 769.5,416.7 770.9,415.2 772.4,415.2 773.9,413.8 775.3,412.3 776.8,413.8 778.3,413.8 779.7,412.3 781.2,410.8 782.7,410.8 784.1,409.4 785.6,402.0 787.1,384.5 788.5,368.4 790.0,355.2 791.4,350.8 792.9,349.3 794.4,350.8 795.8,352.3 797.3,352.3 798.8,349.3 800.2,343.5 801.7,340.6 803.2,346.4 804.6,353.7 806.1,359.6 807.6,369.8 809.0,369.8 810.5,362.5 812.0,358.1 813.4,352.3 814.9,352.3 816.4,358.1 817.8,369.8 819.3,381.6 820.8,390.3 822.2,391.8 823.7,393.3 825.1,391.8 826.6,390.3 828.1,396.2 829.5,402.0 831.0,407.9 832.5,409.4 833.9,410.8 835.4,405.0 836.9,393.3 838.3,375.7 839.8,346.4 841.3,323.0 842.7,320.1 844.2,323.0 845.7,302.5 847.1,273.2 848.6,243.9 850.1,258.6 851.5,293.7 853.0,317.1 854.5,340.6 855.9,364.0 857.4,381.6 858.8,396.2 860.3,402.0 861.8,405.0 862.9,407.9 864.4,399.1 865.9,381.6 867.3,372.8 868.8,369.8 870.3,366.9 871.7,375.7 873.2,390.3 874.7,402.0 876.1,407.9 877.6,410.8 879.0,422.5 880.5,434.3 882.0,440.1 883.4,443.0 884.9,440.1 886.4,441.6 887.8,443.0 889.3,440.1 890.8,449.3 892.2,455.1 893.7,461.0 895.2,474.2 896.6,485.9 898.1,483.0 899.6,481.5 901.0,483.0 902.5,483.0 904.0,481.5 905.4,483.0 906.9,485.9 908.4,484.4 909.8,483.0 911.3,485.9 912.7,490.3 914.2,496.1 915.7,494.7 917.1,490.3 918.6,487.3 920.1,483.0 921.5,487.3 923.0,497.6 924.5,507.8 925.9,509.3 927.4,510.8 928.9,507.8 930.3,504.9 931.8,506.4 933.3,507.8 934.7,507.8 936.2,509.3 937.7,510.8 939.1,513.7 940.6,516.6 942.1,507.8 943.5,478.6 945.0,463.9 946.4,458.1 947.9,452.2 949.4,449.3 950.8,449.3 952.3,447.8 953.8,446.4 955.2,443.4 956.7,437.6 958.2,428.4 959.6,425.5 961.1,422.5 962.6,416.7 964.0,405.0 965.5,387.4 967.0,375.7 968.4,372.8 969.9,371.3 971.4,369.8 972.8,372.8 974.3,378.6 975.8,387.4 977.2,405.0 978.7,437.6 978.7,428.4 980.1,463.9 980.1,454.8 981.6,493.2 982.5,506.4 983.1,499.1 984.5,478.6 986.0,455.1 987.5,440.5 988.9,439.0 990.4,434.6 991.9,431.3 993.3,426.9 994.8,416.7 996.3,405.0 997.7,399.1 999.2,396.2 1000.7,402.0 1002.1,405.0 1003.6,393.3 1005.1,384.5 1006.5,381.6 1008.0,387.4 1009.5,393.3 1010.9,399.1 1012.4,405.0 1013.8,407.9 1015.3,416.7 1016.8,431.3 1017.9,431.3 1019.4,443.0 1020.9,448.9 1022.3,451.8 1023.8,446.0 1025.3,437.2 1026.7,431.3 1028.2,428.4 1029.7,431.3 1031.1,446.0 1032.6,463.5 1034.0,466.9 1035.5,472.7 1037.0,478.6 1038.4,484.4 1039.9,475.6 1041.4,463.9 1042.8,455.1 1044.3,450.7 1045.8,458.1 1047.2,472.7 1048.7,487.3 1050.2,502.0 1051.6,510.8 1053.1,513.7 1054.6,516.6 1056.0,522.5 1057.5,528.3 1059.0,531.3 1060.4,537.1 1061.9,528.3 1063.4,513.7 1064.8,507.8 1066.3,504.9 1067.7,502.0 1069.2,496.1 1070.7,478.6 1072.1,455.1 1073.6,387.4 1075.1,331.8 1076.5,287.8 1078.0,258.6 1079.5,248.3 1080.9,254.2 1082.4,270.3 1083.9,276.1 1085.3,293.7 1086.8,290.8 1088.3,293.7 1089.7,279.1 1091.2,270.3 1092.7,270.3 1094.1,279.1 1095.6,296.6 1097.1,317.1 1098.5,346.4 1100.0,375.7 1101.4,405.0 1102.9,422.5 1104.4,434.3 1105.8,431.7 1107.3,443.4 1108.8,452.2 1110.2,455.1 1111.7,452.2 1113.2,449.3 1114.6,443.4 1116.1,437.6 1117.6,431.7 1119.0,416.7 1120.5,413.8 1122.0,416.7 1123.4,425.5 1124.9,428.4 1126.4,431.3 1127.8,434.3 1129.3,416.7 1130.8,399.1 1132.2,381.6 1133.7,361.1 1135.1,343.5 1136.6,349.3 1138.1,364.0 1139.5,381.6 1141.0,399.1 1142.5,416.7 1143.9,431.3 1145.4,431.7 1146.9,446.4 1148.3,452.2 1149.8,446.4 1151.3,437.6 1152.7,431.7 1154.2,440.5 1155.7,446.4 1157.1,449.3 1158.6,452.2 1160.1,449.3 1161.5,452.2 1163.0,458.1 1164.5,466.9 1165.9,478.6 1167.4,487.3 1168.8,496.1 1170.3,507.8 1171.8,519.6 1172.9,537.1 1174.4,560.6 1175.9,578.1 1177.3,589.8 1178.8,584.0 1180.3,572.3 1181.7,569.3 1183.2,578.1 1184.7,595.7 1186.1,601.6 1187.6,607.4 1189.0,601.6 1190.5,595.7 1192.0,598.6 1193.4,607.4 1194.9,616.2 1196.4,625.0 1197.8,627.9 1199.3,619.1 1200.8,601.6 1202.2,592.8 1203.7,595.7 1205.2,592.8 1206.6,584.0 1208.1,566.4 1209.6,554.7 1211.0,548.8 1212.5,543.0 1214.0,525.4 1215.4,507.8 1216.9,493.2 1218.4,487.3 1219.8,488.8 1221.3,485.9 1222.7,490.3 1224.2,499.1 1225.7,510.8 1227.1,525.4 1228.6,543.0 1230.1,554.7 1231.5,569.3 1233.0,579.6 1234.5,575.2 1235.9,566.4 1237.4,562.0 1238.9,559.1 1240.3,557.6 1241.8,556.2 1243.3,554.7 1244.7,553.2 1246.2,551.8 1247.7,543.0 1249.1,531.3 1250.6,513.7 1252.1,499.1 1253.5,494.7 1255.0,493.2 1256.4,487.3 1257.9,469.8 1259.4,449.3 1260.8,422.9 1262.3,414.1 1263.8,422.9 1265.2,446.4 1266.7,472.7 1268.2,502.0 1269.6,525.4 1271.1,543.0 1272.6,554.7 1274.0,566.4 1275.5,575.2 1277.0,584.0 1278.4,589.8 1279.9,586.9 1281.4,572.3 1282.8,569.3 1284.3,563.5 1285.8,557.6 1287.2,548.8 1288.7,543.0 1290.1,545.9 1291.6,554.7 1293.1,560.6 1294.5,563.5 1296.0,560.6 1297.5,554.7 1298.9,560.6 1300.4,566.4 1301.9,563.5 1303.3,557.6 1304.8,548.8 1306.3,543.0 1307.7,545.9 1309.2,554.7 1310.7,560.6 1312.1,563.5 1313.6,564.9 1315.1,563.5 1316.5,563.5 1318.0,562.0 1319.5,563.5 1320.9,560.6 1322.4,551.8 1323.8,537.1 1325.3,516.6 1326.8,504.9 1328.1,493.4 1329.7,490.3 1331.2,491.8 1332.8,499.6 1334.3,515.2 1335.9,524.5 1337.5,537.0 1339.0,546.3 1340.6,549.4 1342.1,546.3 1343.7,541.6 1345.2,543.2 1346.8,549.4 1348.4,554.1 1349.9,558.8 1351.5,552.5 1353.0,540.1 1354.6,527.6 1356.1,518.3 1357.7,512.1 1359.2,502.7 1360.8,496.5 1362.4,493.4 1363.9,505.8 1365.5,518.3 1367.0,521.4 1368.6,519.8 1370.1,521.4 1371.7,523.0 1373.3,524.5 1374.8,521.4 1376.4,518.3 1377.9,512.1 1379.5,505.8 1381.0,499.6 1382.6,494.9 1384.2,496.5 1385.7,501.2 1387.3,493.4 1388.8,485.6 1390.4,482.5 1391.9,490.3 1393.5,502.7 1395.1,512.1 1396.6,505.8 1398.2,502.7 1399.7,499.6 1401.3,496.5 1402.8,490.3 1404.4,484.0 1406.0,474.7 1407.5,465.4 1409.1,456.0 1410.6,454.5 1412.2,459.1 1413.7,468.5 1415.5,495.0 1418.4,518.0 1421.5,562.0 1423.1,580.5 1425.4,589.9 1427.4,591.0 1429.3,593.8 1431.3,595.0 1433.2,589.2 1434.5,591.0 1436.5,601.6 1438.4,614.6 1440.4,623.7 1441.7,608.1 1443.0,582.1 1444.3,566.4 1445.6,565.1 1446.9,566.4 1448.2,563.8 1449.5,561.9 1450.8,562.5 1452.1,573.0 1453.4,569.0 1454.7,579.5 1456.0,591.2 1457.3,593.8 1458.6,591.2 1459.9,587.3 1461.2,582.1 1463.2,571.7 1464.5,574.3 1465.8,576.9 1467.1,588.6 1468.4,587.3 1469.7,584.7 1471.0,575.6 1472.3,561.2 1473.6,559.9 1474.9,557.3 1476.2,549.5 1477.5,541.7 1478.8,546.9 1480.1,556.0 1481.4,561.2 1482.7,562.5 1484.0,563.8 1485.3,565.1 1486.6,569.0 1487.9,575.6 1489.2,591.2 1490.2,608.1 1491.2,618.5"/>
<polyline fill="none" stroke="#303030" stroke-width="2.2" stroke-linejoin="round" points="91.4,302.5 92.3,286.4 93.8,289.3 95.3,267.3 98.2,258.6 99.7,267.3 101.1,299.6 102.6,305.4 103.5,301.0 105.5,315.7 108.4,323.0 109.9,327.4 111.4,299.6 112.8,305.4 114.3,293.7 115.8,305.4 118.7,304.0 120.2,290.8 124.6,270.3 127.5,257.1 129.5,241.0 131.0,248.3 133.4,265.9 134.8,258.6 136.3,252.7 139.2,254.2 142.1,257.1 143.6,270.3 146.5,279.1 148.0,287.8 150.9,267.3 153.9,263.0 155.3,252.7 158.3,251.2 161.2,249.8 162.7,255.6 164.1,252.7 167.1,257.1 168.5,264.4 170.0,255.6 172.9,251.2 174.4,246.9 176.4,245.4 178.2,229.3 180.2,230.7 183.2,239.5 186.1,243.9 187.6,264.4 189.6,265.9 192.0,282.0 194.9,295.2 196.9,303.1 199.3,279.1 200.8,271.7 202.2,276.1 203.7,277.6 205.1,257.1 207.5,257.1 209.5,261.5 211.0,279.1 212.5,260.0 213.9,263.0 215.4,257.1 216.9,252.7 219.2,257.1 221.3,263.0 222.7,282.0 224.2,299.6 227.1,301.0 228.6,317.1 230.1,323.0 231.5,340.6 233.0,349.3 234.5,381.6 235.9,358.1 237.4,381.6 238.8,375.7 240.3,399.1 241.8,375.7 242.9,372.8 244.4,369.8 245.9,368.4 247.3,375.7 248.8,387.4 250.3,402.0 251.7,396.2 253.2,387.4 254.7,378.6 256.1,381.6 257.6,369.8 259.0,378.6 260.5,387.4 262.0,393.3 263.4,405.0 264.9,410.8 266.4,399.1 267.8,384.5 269.3,383.0 270.8,387.4 271.6,393.3 272.8,375.7 274.3,364.0 275.8,358.1 277.5,364.0 279.0,375.7 280.4,378.6 281.9,393.3 284.0,394.7 285.4,425.5 286.9,425.5 288.4,413.8 289.8,402.0 291.3,410.8 292.7,428.4 294.2,416.7 295.7,402.0 297.1,405.0 298.6,396.2 300.1,399.1 301.5,410.8 303.0,405.0 304.5,402.0 305.9,399.1 307.4,405.0 310.3,409.4 311.8,407.9 313.3,413.8 314.7,416.7 316.8,407.9 318.5,416.7 320.6,419.6 322.1,425.5 324.4,426.9 326.4,428.4 327.9,431.3 329.4,434.3 330.8,446.0 333.2,422.5 335.2,416.7 338.2,405.0 341.1,375.7 342.6,364.0 344.0,361.1 346.1,347.9 347.8,349.3 349.0,355.2 350.8,366.9 352.2,375.7 354.3,355.2 356.6,343.5 358.1,331.8 360.1,328.8 361.6,320.1 363.1,323.0 364.5,324.5 366.0,328.8 368.1,311.3 369.5,314.2 371.3,320.1 373.3,323.0 374.8,328.8 376.3,323.0 377.7,311.3 379.2,302.5 380.7,304.0 382.1,301.0 383.6,301.0 385.1,309.8 386.5,304.0 388.0,315.7 389.5,305.4 390.9,304.0 392.4,305.4 393.8,314.2 395.3,314.2 396.8,308.3 397.9,302.5 399.4,298.1 401.4,295.2 403.2,287.8 405.3,283.5 406.7,299.6 407.3,317.1 409.1,320.1 410.2,320.1 411.4,328.8 413.2,325.9 414.3,328.8 415.5,320.1 417.0,323.0 418.4,311.3 419.9,309.8 421.4,312.7 422.8,309.8 424.3,314.2 425.8,323.0 427.2,340.6 428.7,358.1 430.2,337.6 431.6,328.8 433.1,340.6 434.6,339.1 436.0,343.5 437.5,340.6 439.0,352.3 440.4,353.7 441.9,340.6 443.4,317.1 444.8,309.8 447.2,309.8 448.6,304.0 450.1,287.8 451.6,270.3 453.0,276.1 455.1,271.7 457.1,270.3 458.9,263.0 460.3,267.3 461.8,260.0 463.9,258.6 465.3,243.9 466.8,238.1 468.3,239.5 469.7,236.6 471.2,229.3 472.7,220.5 474.1,227.8 475.6,239.5 477.1,241.0 478.5,242.5 480.0,238.1 481.4,232.2 482.9,242.5 484.4,252.7 485.8,243.9 488.2,238.1 490.2,235.1 491.7,238.1 493.2,232.2 494.6,230.7 496.1,236.6 497.6,239.5 499.0,238.1 500.5,233.7 502.0,223.4 503.4,213.2 504.9,216.1 506.4,220.5 507.8,224.9 509.3,223.4 510.8,226.4 512.2,223.4 513.7,229.3 515.1,243.9 516.6,246.9 518.1,261.5 519.5,254.2 521.0,248.3 522.5,252.7 523.9,263.0 525.4,257.1 526.9,258.6 528.3,254.2 529.8,251.2 531.3,276.1 532.7,270.3 534.2,261.5 535.7,260.0 537.1,257.1 538.6,260.0 540.1,261.5 541.5,270.3 543.0,287.8 543.9,302.5 545.0,299.6 546.8,295.2 548.8,295.2 550.3,299.6 551.8,311.3 552.9,302.5 554.4,314.2 555.9,299.6 557.3,305.4 558.8,314.2 560.3,305.4 561.7,311.3 563.2,318.6 564.7,317.1 566.1,317.1 567.6,315.7 569.0,305.4 570.5,304.0 572.0,296.6 573.4,293.7 575.8,293.7 577.8,293.7 579.3,296.6 580.8,311.3 582.2,320.1 583.7,315.7 585.2,318.6 586.6,312.7 588.1,314.2 589.6,317.1 591.0,323.0 592.5,328.8 594.0,337.6 595.4,343.5 596.9,350.8 598.4,349.3 599.8,349.3 601.3,347.9 602.7,343.5 604.2,336.2 605.7,343.5 607.1,340.6 608.6,340.6 610.1,342.0 611.5,346.4 613.0,344.9 614.5,346.4 615.9,352.3 617.4,358.1 618.9,387.4 620.3,399.1 621.8,390.3 623.3,387.4 624.7,385.9 626.2,384.5 627.7,380.1 629.1,377.2 630.6,375.7 632.1,378.6 633.5,374.2 635.0,371.3 636.4,384.5 637.9,384.5 639.4,364.0 640.8,352.3 642.3,349.3 643.8,343.5 645.2,336.2 646.7,333.2 648.2,334.7 649.6,340.6 651.1,344.9 652.6,346.4 654.0,344.9 655.5,339.1 657.0,331.8 658.4,333.2 659.9,343.5 661.4,359.6 662.8,361.1 664.3,369.8 665.8,378.6 667.2,383.0 668.7,375.7 670.1,378.6 671.6,374.2 673.1,368.4 674.5,372.8 676.0,378.6 677.5,358.1 678.9,334.7 680.4,333.2 681.9,339.1 683.3,352.3 684.8,366.9 686.3,368.4 687.7,372.8 689.2,375.7 690.7,364.0 692.1,347.9 693.6,361.1 695.1,369.8 696.5,368.4 698.0,377.2 699.5,366.9 700.9,364.0 702.4,355.2 703.8,352.3 705.3,349.3 706.8,347.9 707.9,346.4 709.4,352.3 710.9,352.3 712.3,347.9 713.8,342.0 715.3,336.2 716.7,331.8 718.2,323.0 719.7,317.1 721.1,314.2 722.6,312.7 724.0,315.7 725.5,323.0 727.0,320.1 728.4,323.0 729.9,320.1 731.4,318.6 732.8,320.1 734.3,328.8 735.8,337.6 737.2,343.5 738.7,342.0 740.2,344.9 741.6,352.3 743.1,365.4 744.6,355.2 746.0,361.1 747.5,356.7 749.0,359.6 750.4,362.5 751.9,358.1 753.4,355.2 754.8,352.3 756.3,352.3 757.7,356.7 759.2,359.6 760.7,364.0 762.1,365.4 763.6,359.6 765.1,368.4 766.5,375.7 768.0,369.8 769.5,372.8 770.9,375.7 772.4,372.8 773.9,377.2 775.3,375.7 776.8,378.6 778.3,365.4 779.7,364.0 780.6,384.5 781.8,388.9 782.7,393.3 784.1,402.0 785.6,416.7 786.5,434.3 787.6,437.2 788.5,448.9 790.0,454.8 791.4,451.8 792.9,448.9 794.4,440.1 795.8,434.3 797.3,446.0 798.8,443.0 800.2,454.8 801.7,446.0 803.2,451.8 804.6,448.9 806.1,443.0 807.6,457.7 809.0,448.9 810.5,451.8 812.0,448.9 813.4,453.3 814.9,457.7 816.4,454.8 817.8,448.9 819.3,437.2 820.8,428.4 822.2,434.3 823.7,440.1 825.1,438.7 826.6,443.0 828.1,438.7 829.5,434.3 831.0,432.8 832.5,437.2 833.9,443.0 835.4,448.9 836.9,454.8 838.3,460.6 839.8,466.5 840.4,502.0 841.3,522.5 842.7,528.3 844.2,526.9 845.7,545.9 846.5,554.7 847.7,557.6 848.6,572.3 850.1,554.7 851.5,551.8 853.0,553.2 854.5,557.6 855.9,545.9 857.4,541.5 858.8,540.1 860.3,543.0 861.8,548.8 862.9,548.8 864.4,554.7 865.9,557.6 867.3,560.6 868.8,566.4 870.3,570.8 871.7,569.3 873.2,557.6 874.7,556.2 876.1,557.6 877.6,543.0 879.0,535.7 880.5,534.2 882.0,537.1 883.4,545.9 884.9,560.6 886.4,569.3 887.8,557.6 889.3,551.8 890.8,548.8 892.2,545.9 893.7,547.4 895.2,531.3 896.6,516.6 898.1,515.2 899.6,518.1 901.0,524.0 902.5,525.4 904.0,528.3 905.4,535.7 906.9,540.1 908.4,543.0 909.8,519.6 911.3,510.8 912.7,509.3 914.2,512.2 915.7,513.7 917.1,516.6 918.6,519.6 920.1,521.0 921.5,524.0 923.0,519.6 924.5,521.0 925.9,516.6 927.4,513.7 928.9,512.2 930.3,507.8 931.8,510.8 933.3,506.4 934.7,503.5 936.2,503.5 937.7,504.9 939.1,506.4 940.6,510.8 942.1,513.7 943.5,516.6 945.0,522.5 945.6,547.4 946.4,543.0 947.9,540.1 949.4,538.6 950.8,540.1 952.3,538.6 953.8,537.1 955.2,543.0 956.7,554.7 958.2,559.1 959.6,564.9 961.1,560.6 962.6,557.6 964.0,559.1 965.5,560.6 967.0,559.1 968.4,560.6 969.9,562.0 971.4,563.5 972.8,569.3 973.7,576.7 974.9,572.3 976.6,563.5 978.1,545.9 979.6,537.1 980.7,535.7 981.9,531.3 983.1,528.9 984.0,537.1 985.1,554.7 986.6,560.6 988.4,557.6 989.8,563.5 991.9,564.9 993.3,567.9 994.8,570.8 996.3,579.6 997.7,572.3 999.2,569.3 1000.7,573.7 1002.1,576.7 1003.6,572.3 1005.1,570.8 1006.5,569.3 1008.0,567.9 1009.5,570.8 1010.9,570.8 1012.4,572.3 1013.8,573.7 1015.3,563.5 1016.8,556.2 1017.9,554.7 1019.4,557.6 1020.9,563.5 1022.3,566.4 1023.8,569.3 1025.3,570.8 1026.7,572.3 1028.2,573.7 1029.7,570.8 1031.1,569.3 1032.6,572.3 1034.0,573.7 1035.5,570.8 1037.0,566.4 1038.4,569.3 1039.9,572.3 1041.4,573.7 1042.8,572.3 1044.3,570.8 1045.8,569.3 1047.2,569.3 1048.7,563.5 1050.2,557.6 1051.6,548.8 1053.1,551.8 1054.6,548.8 1056.0,550.3 1057.5,551.8 1059.0,553.2 1060.4,554.7 1061.9,556.2 1063.4,557.6 1064.8,545.9 1066.3,543.0 1067.7,544.5 1069.2,548.8 1070.7,557.6 1071.6,584.0 1072.4,625.0 1073.6,598.6 1075.1,597.2 1076.5,607.4 1078.0,616.2 1079.5,613.3 1080.9,608.9 1082.4,613.3 1083.9,610.3 1085.3,611.8 1086.8,610.3 1088.3,614.7 1089.7,616.2 1091.2,622.0 1092.1,626.4 1093.2,619.1 1094.1,613.3 1095.6,614.7 1097.1,616.2 1098.5,614.7 1100.0,617.7 1101.4,619.1 1102.9,619.1 1104.4,610.3 1105.8,604.5 1107.3,607.4 1108.8,605.9 1110.2,604.5 1111.7,607.4 1113.2,604.5 1114.6,605.9 1116.1,604.5 1117.6,607.4 1119.0,603.0 1120.5,604.5 1122.0,604.5 1123.4,603.0 1124.9,601.6 1126.4,594.2 1127.8,595.7 1129.3,604.5 1130.8,610.3 1132.2,611.8 1133.7,610.3 1135.1,614.7 1136.6,610.3 1138.1,608.9 1139.5,610.3 1141.0,608.9 1142.5,608.9 1143.9,608.9 1145.4,608.0 1146.9,609.8 1148.3,611.8 1149.8,613.3 1151.3,613.3 1152.7,613.9 1154.2,612.7 1155.7,611.8 1157.1,611.8 1158.6,610.3 1160.1,609.8 1161.5,608.9 1163.0,608.9 1164.5,607.4 1165.9,605.9 1167.4,603.0 1168.8,598.6 1170.3,589.8 1171.8,578.1 1172.9,566.4 1174.4,548.8 1175.9,545.9 1177.3,544.5 1178.8,545.9 1180.3,543.0 1181.7,548.8 1183.2,543.0 1184.7,531.3 1186.1,525.4 1187.6,521.0 1189.0,522.5 1190.5,521.0 1192.0,519.6 1193.4,518.1 1194.9,519.6 1196.4,519.6 1197.8,516.6 1199.3,512.2 1200.8,518.1 1202.2,516.6 1203.7,513.1 1205.2,515.2 1206.6,516.6 1208.1,518.1 1209.6,519.6 1211.0,522.5 1212.5,521.0 1214.0,528.3 1215.4,534.2 1216.9,535.7 1218.4,536.5 1219.8,535.7 1221.3,534.2 1222.7,531.3 1224.2,519.6 1225.7,507.8 1227.1,502.0 1228.6,503.5 1230.1,502.0 1231.5,500.5 1233.0,499.1 1234.5,503.5 1235.9,504.9 1237.4,507.8 1238.9,513.7 1240.3,516.6 1241.8,515.2 1243.3,513.7 1244.7,513.7 1246.2,515.2 1247.7,513.7 1249.1,522.5 1250.6,526.9 1252.1,528.3 1253.5,526.9 1255.0,528.3 1256.4,531.3 1257.9,543.0 1259.4,551.8 1260.8,556.2 1262.3,551.8 1263.8,531.3 1265.2,516.6 1266.7,504.9 1268.2,502.0 1269.6,487.3 1271.1,475.6 1272.6,471.2 1274.0,468.3 1275.5,465.4 1277.0,468.3 1278.4,463.9 1279.9,465.4 1281.4,466.9 1282.8,463.9 1284.3,466.9 1285.8,469.8 1287.2,471.2 1288.7,466.9 1290.1,462.5 1291.6,461.0 1293.1,461.0 1294.5,459.5 1296.0,459.5 1297.5,462.5 1298.9,463.9 1300.4,463.9 1301.9,463.9 1303.3,462.5 1304.8,463.9 1306.3,462.5 1307.7,455.1 1309.2,447.8 1310.7,443.4 1312.1,442.0 1313.6,440.5 1315.1,442.0 1316.5,440.5 1318.0,443.4 1319.5,440.5 1320.9,446.4 1322.4,449.3 1323.8,458.1 1325.3,466.9 1326.8,468.3 1328.1,466.9 1329.7,462.3 1331.2,463.8 1332.8,457.6 1334.3,452.9 1335.9,449.8 1337.5,451.4 1339.0,459.1 1340.6,457.6 1342.1,452.9 1343.7,456.0 1345.2,454.5 1346.8,449.8 1348.4,452.9 1349.9,457.6 1351.5,460.7 1353.0,463.8 1354.6,466.9 1356.1,471.6 1357.7,474.7 1359.2,476.3 1360.8,473.2 1362.4,474.7 1363.9,473.2 1365.5,474.7 1367.0,476.3 1368.6,473.2 1370.1,476.3 1371.7,474.7 1373.3,476.3 1374.8,474.7 1376.4,477.8 1377.9,479.4 1379.5,474.7 1381.0,471.6 1382.6,468.5 1384.2,463.8 1385.7,466.9 1387.3,471.6 1388.8,470.0 1390.4,474.7 1391.9,473.2 1393.5,476.3 1395.1,479.4 1396.6,484.0 1398.2,474.7 1399.7,480.9 1401.3,482.5 1402.8,484.0 1404.4,485.6 1406.0,484.0 1407.5,488.7 1409.1,490.3 1410.6,493.4 1412.2,485.6 1413.7,480.9 1415.3,482.5 1416.8,477.8 1418.4,462.3 1420.0,452.9 1421.5,443.6 1423.1,440.5 1424.6,438.9 1426.2,440.5 1427.7,438.9 1429.3,440.5 1430.9,438.9 1432.4,437.4 1434.0,438.9 1435.5,435.8 1437.1,437.4 1438.6,434.2 1440.2,434.2 1441.8,435.8 1443.3,440.5 1444.9,443.6 1446.4,440.5 1448.0,438.9 1449.5,437.4 1451.1,440.5 1452.7,438.9 1454.2,437.4 1455.8,431.1 1457.3,437.4 1458.9,438.9 1460.4,440.5 1462.0,442.0 1463.6,443.6 1465.1,443.6 1466.7,445.1 1468.2,445.1 1469.8,443.6 1471.3,446.7 1472.9,449.8 1474.4,451.4 1476.0,449.8 1477.6,451.4 1479.1,449.8 1480.7,450.4 1482.2,451.4 1483.8,448.2 1485.3,449.8 1486.9,451.4 1488.5,451.4 1490.0,452.9 1491.6,453.5"/>
<line x1="1500" x2="1500" y1="164" y2="758" stroke="#222" stroke-width="2"/>
<line x1="91.8" x2="1496" y1="534.7" y2="534.7" stroke="#fc0a52" stroke-width="3.2" stroke-dasharray="4.1 4.35" stroke-dashoffset="2.15"/>
<text x="783.2" y="528.9" font-family="Liberation Sans, sans-serif" font-size="21.2" fill="#f5105a" font-weight="bold" textLength="31.5" lengthAdjust="spacingAndGlyphs">0%</text>
<ellipse cx="1490.9" cy="591.5" rx="25.4" ry="38.8" fill="rgba(60,120,240,0.22)" stroke="#1160f5" stroke-width="1.9" stroke-dasharray="5 3.6"/>
<line x1="1490.3" x2="1490.3" y1="630.5" y2="712.8" stroke="#1160f5" stroke-width="1.6" stroke-dasharray="3.4 4.6" stroke-dashoffset="0.8"/>
<line x1="1088.8" x2="1491" y1="712.6" y2="712.6" stroke="#1160f5" stroke-width="1.6" stroke-dasharray="4.3 3.96" stroke-dashoffset="1.96"/>
<text x="1175.6" y="656.9" font-family="Liberation Sans, sans-serif" font-size="19.3" fill="#0a55fb" font-weight="bold" textLength="229" lengthAdjust="spacingAndGlyphs">Options 25-Delta Skew</text>
<text x="1235.6" y="680.8" font-family="Liberation Sans, sans-serif" font-size="19.3" fill="#0a55fb" font-weight="bold" textLength="109" lengthAdjust="spacingAndGlyphs">-5% to -8%</text>
<text x="1104.8" y="706.2" font-family="Liberation Sans, sans-serif" font-size="19.3" fill="#0a55fb" font-style="italic" textLength="371.8" lengthAdjust="spacingAndGlyphs">(Put Options Cheaper Relative to Calls)</text>
</svg>
</body></html>
